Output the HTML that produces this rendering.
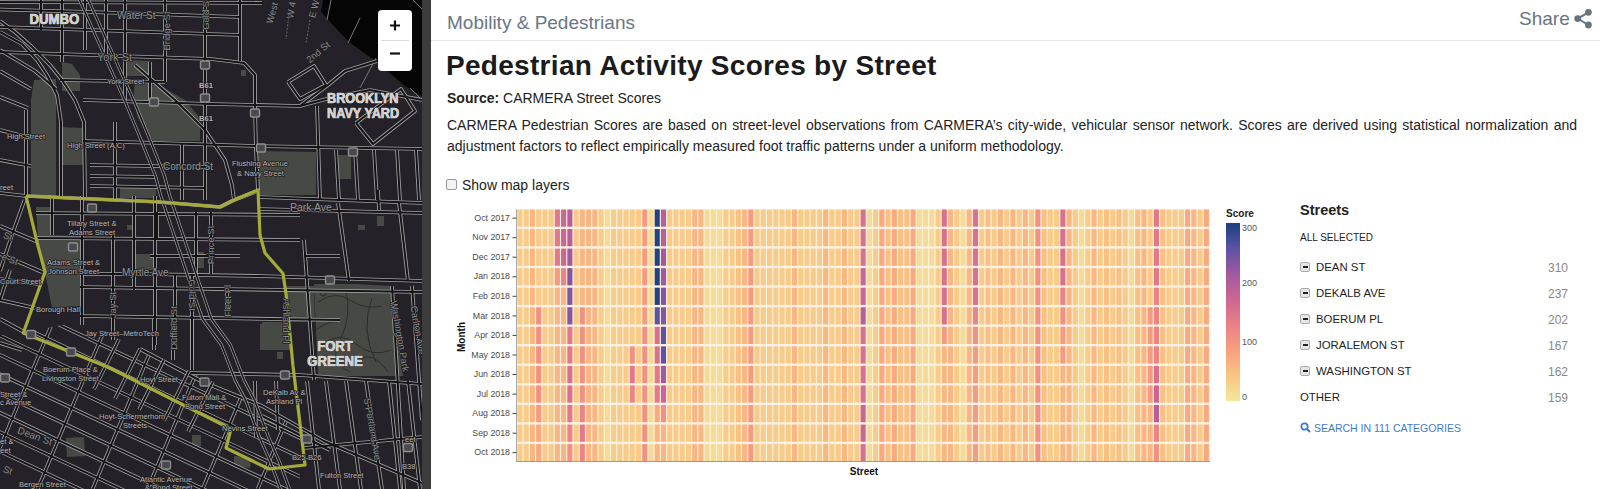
<!DOCTYPE html>
<html><head><meta charset="utf-8">
<style>
*{margin:0;padding:0;box-sizing:border-box}
html,body{width:1600px;height:489px;overflow:hidden;background:#fff;font-family:"Liberation Sans",sans-serif;position:relative}
.abs{position:absolute;white-space:nowrap}
#map{position:absolute;left:0;top:0;width:422px;height:489px;overflow:hidden}
#bar{position:absolute;left:422px;top:0;width:9px;height:489px;background:#3c3c3c}
#zoom{position:absolute;left:378px;top:10px;width:34px;height:61px;background:#fff;border-radius:4px}
#zoom .d{position:absolute;left:3px;right:3px;top:30px;height:1px;background:#ddd}
.hdr{left:447px;top:12px;font-size:19px;color:#677785}
.hline{position:absolute;left:431px;width:1169px;top:40px;height:1px;background:#e6e6e6}
.share{left:1519px;top:8px;font-size:19px;color:#66747f}
.title{left:446px;top:50px;letter-spacing:0.3px;font-size:28px;font-weight:bold;color:#1b1b1b}
.src{left:447px;top:90px;font-size:14px;color:#222}
.para{position:absolute;left:447px;top:115px;width:1130px;font-size:14px;line-height:21px;color:#222;text-align:justify}
.chk{position:absolute;left:446px;top:179px;width:11px;height:11px;border:1px solid #999;border-radius:2px;background:#f3f3f3}
.sml{left:462px;top:177px;font-size:14px;color:#222}
.cb{position:absolute;left:1300px;width:10px;height:10px;border-radius:2px;background:#e6e6e6;border:1px solid #aaa}
.cb::after{content:"";position:absolute;left:2px;top:3.5px;width:4.5px;height:1.6px;background:#222}
.st{position:absolute;left:1316px;font-size:11.4px;color:#222;white-space:nowrap}
.num{position:absolute;left:1520px;width:48px;text-align:right;font-size:12px;color:#888}
</style></head><body>
<div id="map"><svg width="422" height="489" viewBox="0 0 422 489"><rect x="0" y="0" width="422" height="489" fill="#242228"/>
<polygon points="323.0,0.0 422.0,0.0 422.0,96.0 405.0,86.0 378.0,63.0 349.0,42.0 331.0,23.0 321.0,12.0" fill="#050505"/>
<g stroke="#77777a" stroke-width="1" fill="none"><polyline points="331,0 327,20"/><polyline points="360,18 348,43"/><polyline points="376,58 360,88"/><polyline points="413,0 422,9"/><polyline points="410,88 422,100"/></g>
<polygon points="34.0,80.0 56.0,79.0 56.0,196.0 31.0,196.0 31.0,100.0" fill="#474a44"/>
<polygon points="62.0,62.0 72.0,64.0 80.0,75.0 80.0,91.0 62.0,91.0" fill="#474a44"/>
<polygon points="59.0,127.0 84.0,128.0 84.0,165.0 59.0,165.0" fill="#474a44"/>
<polygon points="125.0,60.0 150.0,61.0 150.0,76.0 125.0,76.0" fill="#474a44"/>
<polygon points="135.0,82.0 160.0,86.0 185.0,100.0 200.0,118.0 200.0,141.0 153.0,141.0 138.0,118.0 133.0,100.0" fill="#474a44"/>
<polygon points="257.0,151.0 316.0,152.0 316.0,195.0 258.0,195.0" fill="#474a44"/>
<polygon points="338.0,155.0 351.0,155.0 351.0,179.0 338.0,179.0" fill="#474a44"/>
<polygon points="241.0,70.0 246.0,70.0 246.0,76.0 241.0,76.0" fill="#474a44"/>
<polygon points="120.0,186.0 156.0,186.0 156.0,198.0 120.0,198.0" fill="#474a44"/>
<polygon points="36.0,207.0 50.0,207.0 50.0,235.0 80.0,236.0 80.0,306.0 52.0,308.0 45.0,272.0 38.0,240.0" fill="#474a44"/>
<polygon points="127.0,225.0 136.0,225.0 136.0,230.0 127.0,230.0" fill="#474a44"/>
<polygon points="136.0,254.0 155.0,254.0 155.0,270.0 136.0,270.0" fill="#474a44"/>
<polygon points="197.0,252.0 204.0,252.0 204.0,268.0 197.0,268.0" fill="#474a44"/>
<polygon points="314.0,284.0 355.0,284.0 391.0,286.0 397.0,330.0 403.0,376.0 318.0,376.0 316.0,330.0" fill="#474a44"/>
<polygon points="286.0,286.0 314.0,286.0 315.0,322.0 287.0,322.0" fill="#474a44"/>
<polygon points="262.0,322.0 290.0,322.0 290.0,350.0 262.0,350.0" fill="#474a44"/>
<polygon points="260.0,324.0 286.0,324.0 286.0,350.0 260.0,350.0" fill="#474a44"/>
<polygon points="377.0,216.0 384.0,216.0 384.0,226.0 377.0,226.0" fill="#474a44"/>
<polygon points="358.0,225.0 365.0,225.0 365.0,230.0 358.0,230.0" fill="#474a44"/>
<polygon points="66.0,438.0 84.0,437.0 85.0,456.0 67.0,457.0" fill="#474a44"/>
<polygon points="192.0,435.0 201.0,435.0 201.0,446.0 192.0,446.0" fill="#474a44"/>
<polygon points="234.0,456.0 251.0,458.0 250.0,468.0 234.0,466.0" fill="#474a44"/>
<polygon points="277.0,352.0 283.0,352.0 283.0,359.0 277.0,359.0" fill="#474a44"/>
<g fill="none" stroke="#2c2d2a" stroke-width="1"><path d="M318,302 Q335,290 350,300 T382,306"/><path d="M322,345 Q340,330 356,344 T391,350"/><path d="M346,289 Q352,318 340,340 T350,372"/><path d="M372,298 Q360,330 376,362"/><circle cx="323" cy="293" r="3"/><path d="M316,330 Q330,320 338,322"/><path d="M360,360 Q372,350 388,372"/></g><g stroke="#6a6a6c" stroke-width="1" stroke-dasharray="2,1.5"><line x1="289" y1="14" x2="286" y2="39"/><line x1="310" y1="20" x2="306" y2="43"/></g>
<defs><clipPath id="dt"><polygon points="0,335 23.3,333 76,322 203,377 262,406 300,428 300,489 0,489"/></clipPath></defs>
<g clip-path="url(#dt)"><g fill="none" stroke="#a4a4a6" stroke-width="3.5" stroke-linejoin="round"><polyline points="-10.0,273.0 430.0,479.8"/><polyline points="-10.0,292.3 430.0,499.1"/><polyline points="-10.0,311.6 430.0,518.4"/><polyline points="-10.0,330.9 430.0,537.7"/><polyline points="-10.0,350.2 430.0,557.0"/><polyline points="-10.0,369.5 430.0,576.3"/><polyline points="-10.0,388.8 430.0,595.6"/><polyline points="-10.0,408.1 430.0,614.9"/><polyline points="-10.0,427.4 430.0,634.2"/><polyline points="-10.0,446.7 430.0,653.5"/><polyline points="-72.4,489.0 7.0,300.0"/><polyline points="-17.4,489.0 62.0,300.0"/><polyline points="37.6,489.0 117.0,300.0"/><polyline points="92.6,489.0 172.0,300.0"/><polyline points="147.6,489.0 227.0,300.0"/><polyline points="202.6,489.0 282.0,300.0"/><polyline points="257.6,489.0 337.0,300.0"/><polyline points="312.6,489.0 392.0,300.0"/><polyline points="367.6,489.0 447.0,300.0"/></g><g fill="none" stroke="#141316" stroke-width="1.9" stroke-linejoin="round"><polyline points="-10.0,273.0 430.0,479.8"/><polyline points="-10.0,292.3 430.0,499.1"/><polyline points="-10.0,311.6 430.0,518.4"/><polyline points="-10.0,330.9 430.0,537.7"/><polyline points="-10.0,350.2 430.0,557.0"/><polyline points="-10.0,369.5 430.0,576.3"/><polyline points="-10.0,388.8 430.0,595.6"/><polyline points="-10.0,408.1 430.0,614.9"/><polyline points="-10.0,427.4 430.0,634.2"/><polyline points="-10.0,446.7 430.0,653.5"/><polyline points="-72.4,489.0 7.0,300.0"/><polyline points="-17.4,489.0 62.0,300.0"/><polyline points="37.6,489.0 117.0,300.0"/><polyline points="92.6,489.0 172.0,300.0"/><polyline points="147.6,489.0 227.0,300.0"/><polyline points="202.6,489.0 282.0,300.0"/><polyline points="257.6,489.0 337.0,300.0"/><polyline points="312.6,489.0 392.0,300.0"/><polyline points="367.6,489.0 447.0,300.0"/></g></g>
<g fill="none" stroke="#a4a4a6" stroke-width="3.7" stroke-linejoin="round"><polyline points="0.0,2.0 262.0,3.0"/><polyline points="0.0,9.5 90.0,12.0 240.0,17.0"/><polyline points="0.0,27.0 90.0,30.0 240.0,35.0"/><polyline points="0.0,52.0 90.0,55.0 211.0,59.0 244.0,63.0 255.0,75.0 255.0,106.0 256.0,150.0 258.0,190.0"/><polyline points="60.0,80.0 165.0,82.0"/><polyline points="83.0,100.0 211.0,104.0 300.0,106.0 330.0,98.0 370.0,90.0"/><polyline points="41.0,0.0 41.0,30.0"/><polyline points="62.0,0.0 62.0,62.0"/><polyline points="85.0,0.0 85.0,50.0"/><polyline points="106.0,0.0 106.0,55.0"/><polyline points="125.0,0.0 125.0,55.0"/><polyline points="165.0,0.0 165.0,82.0"/><polyline points="205.0,0.0 205.0,200.0"/><polyline points="240.0,0.0 240.0,61.0"/><polyline points="125.0,60.0 125.0,100.0"/><polyline points="150.0,62.0 150.0,100.0"/><polyline points="0.0,21.0 15.0,32.0 32.0,47.0 50.0,65.0 62.0,80.0 75.0,100.0 84.0,122.0 85.0,197.0"/><polyline points="0.0,32.0 22.0,44.0 37.0,60.0 47.0,75.0 57.0,95.0 61.0,122.0 61.0,197.0"/><polyline points="0.0,50.0 35.0,71.0 56.0,89.0"/><polyline points="0.0,71.0 31.0,89.0"/><polyline points="0.0,97.0 28.0,108.0"/><polyline points="0.0,130.0 31.0,138.0"/><polyline points="0.0,160.0 31.0,166.0"/><polyline points="26.0,110.0 26.0,197.0"/><polyline points="135.0,65.0 175.0,100.0 205.0,130.0 225.0,160.0 232.0,185.0 234.0,200.0"/><polyline points="83.0,141.0 160.0,143.0 255.0,146.0 422.0,149.0"/><polyline points="90.0,165.0 205.0,167.0"/><polyline points="90.0,176.0 157.0,177.0"/><polyline points="90.0,186.0 205.0,188.0"/><polyline points="115.0,122.0 115.0,200.0"/><polyline points="182.0,144.0 182.0,200.0"/><polyline points="317.0,106.0 320.0,200.0"/><polyline points="336.0,150.0 339.0,200.0"/><polyline points="355.0,150.0 358.0,200.0"/><polyline points="374.0,150.0 377.0,200.0"/><polyline points="397.0,150.0 400.0,200.0"/><polyline points="416.0,150.0 419.0,200.0"/><polyline points="258.0,197.0 422.0,203.0"/><polyline points="258.0,209.0 422.0,213.0"/><polyline points="288.0,82.0 314.0,66.0 326.0,85.0 300.0,99.0 288.0,82.0"/><polyline points="356.0,123.0 401.0,89.0 415.0,111.0 373.0,144.0 356.0,123.0"/><polyline points="300.0,106.0 328.0,85.0 345.0,71.0 377.0,61.0"/><polyline points="370.0,90.0 422.0,100.0"/><polyline points="0.0,193.0 26.0,196.0 160.0,202.0 220.0,207.0 234.0,200.0 255.0,192.0"/><polyline points="36.0,213.0 300.0,215.0"/><polyline points="36.0,238.0 300.0,240.0"/><polyline points="80.0,274.0 140.0,274.0 260.0,276.0 422.0,281.0"/><polyline points="80.0,287.0 422.0,292.0"/><polyline points="80.0,316.0 340.0,320.0"/><polyline points="150.0,256.0 240.0,256.0"/><polyline points="304.0,256.0 340.0,256.0"/><polyline points="52.0,196.0 52.0,235.0"/><polyline points="82.0,196.0 82.0,325.0"/><polyline points="113.0,235.0 113.0,340.0"/><polyline points="134.0,196.0 134.0,290.0"/><polyline points="155.0,196.0 155.0,345.0"/><polyline points="157.0,212.0 157.0,239.0"/><polyline points="196.0,212.0 196.0,274.0"/><polyline points="211.0,212.0 211.0,274.0"/><polyline points="175.0,274.0 175.0,350.0"/><polyline points="192.0,274.0 192.0,360.0"/><polyline points="227.0,291.0 227.0,317.0"/><polyline points="304.0,240.0 314.0,380.0"/><polyline points="338.0,203.0 349.0,281.0"/><polyline points="378.0,190.0 379.0,210.0"/><polyline points="399.0,203.0 408.0,281.0"/><polyline points="392.0,286.0 404.0,489.0"/><polyline points="412.0,286.0 422.0,420.0"/><polyline points="24.5,200.0 12.0,235.0 0.0,271.0"/><polyline points="10.0,270.0 0.0,300.0"/><polyline points="0.0,226.0 38.0,242.0"/><polyline points="0.0,254.0 42.0,272.0"/><polyline points="0.0,279.0 38.0,284.0"/><polyline points="0.0,300.0 35.0,308.0"/><polyline points="0.0,319.0 26.0,333.0"/><polyline points="0.0,343.0 22.0,350.0"/><polyline points="190.0,373.0 300.0,375.0 422.0,384.0"/><polyline points="140.0,349.0 203.0,382.0 262.0,406.0 324.0,441.0 422.0,483.0"/><polyline points="262.0,416.0 304.0,437.0 330.0,450.0"/><polyline points="304.0,448.0 422.0,437.0"/><polyline points="255.0,381.0 256.0,437.0"/><polyline points="276.0,381.0 278.0,430.0"/><polyline points="307.0,381.0 319.0,489.0"/><polyline points="326.0,381.0 340.0,489.0"/><polyline points="346.0,381.0 361.0,489.0"/><polyline points="366.0,381.0 382.0,489.0"/><polyline points="389.0,381.0 400.0,489.0"/><polyline points="408.0,381.0 420.0,489.0"/><polyline points="154.0,319.0 154.0,350.0"/><polyline points="173.0,319.0 173.0,360.0"/><polyline points="192.0,319.0 192.0,370.0"/></g><g fill="none" stroke="#141316" stroke-width="2.0" stroke-linejoin="round"><polyline points="0.0,2.0 262.0,3.0"/><polyline points="0.0,9.5 90.0,12.0 240.0,17.0"/><polyline points="0.0,27.0 90.0,30.0 240.0,35.0"/><polyline points="0.0,52.0 90.0,55.0 211.0,59.0 244.0,63.0 255.0,75.0 255.0,106.0 256.0,150.0 258.0,190.0"/><polyline points="60.0,80.0 165.0,82.0"/><polyline points="83.0,100.0 211.0,104.0 300.0,106.0 330.0,98.0 370.0,90.0"/><polyline points="41.0,0.0 41.0,30.0"/><polyline points="62.0,0.0 62.0,62.0"/><polyline points="85.0,0.0 85.0,50.0"/><polyline points="106.0,0.0 106.0,55.0"/><polyline points="125.0,0.0 125.0,55.0"/><polyline points="165.0,0.0 165.0,82.0"/><polyline points="205.0,0.0 205.0,200.0"/><polyline points="240.0,0.0 240.0,61.0"/><polyline points="125.0,60.0 125.0,100.0"/><polyline points="150.0,62.0 150.0,100.0"/><polyline points="0.0,21.0 15.0,32.0 32.0,47.0 50.0,65.0 62.0,80.0 75.0,100.0 84.0,122.0 85.0,197.0"/><polyline points="0.0,32.0 22.0,44.0 37.0,60.0 47.0,75.0 57.0,95.0 61.0,122.0 61.0,197.0"/><polyline points="0.0,50.0 35.0,71.0 56.0,89.0"/><polyline points="0.0,71.0 31.0,89.0"/><polyline points="0.0,97.0 28.0,108.0"/><polyline points="0.0,130.0 31.0,138.0"/><polyline points="0.0,160.0 31.0,166.0"/><polyline points="26.0,110.0 26.0,197.0"/><polyline points="135.0,65.0 175.0,100.0 205.0,130.0 225.0,160.0 232.0,185.0 234.0,200.0"/><polyline points="83.0,141.0 160.0,143.0 255.0,146.0 422.0,149.0"/><polyline points="90.0,165.0 205.0,167.0"/><polyline points="90.0,176.0 157.0,177.0"/><polyline points="90.0,186.0 205.0,188.0"/><polyline points="115.0,122.0 115.0,200.0"/><polyline points="182.0,144.0 182.0,200.0"/><polyline points="317.0,106.0 320.0,200.0"/><polyline points="336.0,150.0 339.0,200.0"/><polyline points="355.0,150.0 358.0,200.0"/><polyline points="374.0,150.0 377.0,200.0"/><polyline points="397.0,150.0 400.0,200.0"/><polyline points="416.0,150.0 419.0,200.0"/><polyline points="258.0,197.0 422.0,203.0"/><polyline points="258.0,209.0 422.0,213.0"/><polyline points="288.0,82.0 314.0,66.0 326.0,85.0 300.0,99.0 288.0,82.0"/><polyline points="356.0,123.0 401.0,89.0 415.0,111.0 373.0,144.0 356.0,123.0"/><polyline points="300.0,106.0 328.0,85.0 345.0,71.0 377.0,61.0"/><polyline points="370.0,90.0 422.0,100.0"/><polyline points="0.0,193.0 26.0,196.0 160.0,202.0 220.0,207.0 234.0,200.0 255.0,192.0"/><polyline points="36.0,213.0 300.0,215.0"/><polyline points="36.0,238.0 300.0,240.0"/><polyline points="80.0,274.0 140.0,274.0 260.0,276.0 422.0,281.0"/><polyline points="80.0,287.0 422.0,292.0"/><polyline points="80.0,316.0 340.0,320.0"/><polyline points="150.0,256.0 240.0,256.0"/><polyline points="304.0,256.0 340.0,256.0"/><polyline points="52.0,196.0 52.0,235.0"/><polyline points="82.0,196.0 82.0,325.0"/><polyline points="113.0,235.0 113.0,340.0"/><polyline points="134.0,196.0 134.0,290.0"/><polyline points="155.0,196.0 155.0,345.0"/><polyline points="157.0,212.0 157.0,239.0"/><polyline points="196.0,212.0 196.0,274.0"/><polyline points="211.0,212.0 211.0,274.0"/><polyline points="175.0,274.0 175.0,350.0"/><polyline points="192.0,274.0 192.0,360.0"/><polyline points="227.0,291.0 227.0,317.0"/><polyline points="304.0,240.0 314.0,380.0"/><polyline points="338.0,203.0 349.0,281.0"/><polyline points="378.0,190.0 379.0,210.0"/><polyline points="399.0,203.0 408.0,281.0"/><polyline points="392.0,286.0 404.0,489.0"/><polyline points="412.0,286.0 422.0,420.0"/><polyline points="24.5,200.0 12.0,235.0 0.0,271.0"/><polyline points="10.0,270.0 0.0,300.0"/><polyline points="0.0,226.0 38.0,242.0"/><polyline points="0.0,254.0 42.0,272.0"/><polyline points="0.0,279.0 38.0,284.0"/><polyline points="0.0,300.0 35.0,308.0"/><polyline points="0.0,319.0 26.0,333.0"/><polyline points="0.0,343.0 22.0,350.0"/><polyline points="190.0,373.0 300.0,375.0 422.0,384.0"/><polyline points="140.0,349.0 203.0,382.0 262.0,406.0 324.0,441.0 422.0,483.0"/><polyline points="262.0,416.0 304.0,437.0 330.0,450.0"/><polyline points="304.0,448.0 422.0,437.0"/><polyline points="255.0,381.0 256.0,437.0"/><polyline points="276.0,381.0 278.0,430.0"/><polyline points="307.0,381.0 319.0,489.0"/><polyline points="326.0,381.0 340.0,489.0"/><polyline points="346.0,381.0 361.0,489.0"/><polyline points="366.0,381.0 382.0,489.0"/><polyline points="389.0,381.0 400.0,489.0"/><polyline points="408.0,381.0 420.0,489.0"/><polyline points="154.0,319.0 154.0,350.0"/><polyline points="173.0,319.0 173.0,360.0"/><polyline points="192.0,319.0 192.0,370.0"/></g>
<g fill="none" stroke="#a4a4a6" stroke-width="3.5" stroke-linejoin="round"><polyline points="94.0,389.3 119.0,339.3"/><polyline points="115.0,398.8 140.0,348.8"/><polyline points="139.0,409.6 164.0,359.6"/><polyline points="164.0,420.8 189.0,370.8"/><polyline points="188.0,431.6 213.0,381.6"/></g><g fill="none" stroke="#141316" stroke-width="1.9" stroke-linejoin="round"><polyline points="94.0,389.3 119.0,339.3"/><polyline points="115.0,398.8 140.0,348.8"/><polyline points="139.0,409.6 164.0,359.6"/><polyline points="164.0,420.8 189.0,370.8"/><polyline points="188.0,431.6 213.0,381.6"/></g>
<g fill="none" stroke="#a4a4a6" stroke-width="3.0" stroke-linejoin="round"><polyline points="79.5,0.0 124.5,100.0 141.5,141.0 155.5,176.0 160.5,195.0 192.5,290.0 202.5,319.0 221.5,345.0 235.5,381.0 245.5,400.0 259.5,437.0 270.5,462.0 280.5,489.0"/><polyline points="88.5,0.0 133.5,100.0 150.5,141.0 164.5,176.0 169.5,195.0 201.5,290.0 211.5,319.0 230.5,345.0 244.5,381.0 254.5,400.0 268.5,437.0 279.5,462.0 289.5,489.0"/></g><g fill="none" stroke="#141316" stroke-width="1.6" stroke-linejoin="round"><polyline points="79.5,0.0 124.5,100.0 141.5,141.0 155.5,176.0 160.5,195.0 192.5,290.0 202.5,319.0 221.5,345.0 235.5,381.0 245.5,400.0 259.5,437.0 270.5,462.0 280.5,489.0"/><polyline points="88.5,0.0 133.5,100.0 150.5,141.0 164.5,176.0 169.5,195.0 201.5,290.0 211.5,319.0 230.5,345.0 244.5,381.0 254.5,400.0 268.5,437.0 279.5,462.0 289.5,489.0"/></g>
<polyline points="26.0,196.0 160.0,202.0 220.0,207.0 234.0,200.0 258.0,190.0 260.0,235.0 265.0,253.0 283.0,273.5 286.0,294.0 293.0,366.0 297.0,399.0 305.0,465.0 269.0,469.0 226.0,448.0 231.0,429.0 110.0,368.0 23.3,333.0 45.0,272.0 37.5,244.0 26.0,196.0" fill="none" stroke="#a4ab3a" stroke-width="3.2" stroke-linejoin="round"/>
<g fill="#4a4a4d" stroke="#8f8f91" stroke-width="1.4"><rect x="200.5" y="61" width="9" height="8" rx="1.5"/><rect x="200.5" y="94" width="9" height="8" rx="1.5"/><rect x="149.5" y="98" width="9" height="8" rx="1.5"/><rect x="250.5" y="109" width="9" height="8" rx="1.5"/><rect x="256.5" y="144" width="9" height="8" rx="1.5"/><rect x="348.5" y="148" width="9" height="8" rx="1.5"/><rect x="87.5" y="204" width="9" height="8" rx="1.5"/><rect x="68.5" y="243" width="9" height="8" rx="1.5"/><rect x="26.5" y="330.5" width="9" height="8" rx="1.5"/><rect x="66.5" y="348" width="9" height="8" rx="1.5"/><rect x="0.5" y="374" width="9" height="8" rx="1.5"/><rect x="200.0" y="378" width="9" height="8" rx="1.5"/><rect x="161.5" y="461" width="9" height="8" rx="1.5"/><rect x="280.5" y="371" width="9" height="8" rx="1.5"/><rect x="302.5" y="435" width="9" height="8" rx="1.5"/><rect x="403.5" y="443.5" width="9" height="8" rx="1.5"/><rect x="325.5" y="276" width="9" height="8" rx="1.5"/></g>
<g font-family="Liberation Sans" paint-order="stroke" stroke="#1f1e22" stroke-width="1.6" stroke-linejoin="round"><text transform="translate(29.5,24.4) scale(0.88,1)" font-size="15" font-weight="bold" fill="#d2d2d2">DUMBO</text><text transform="translate(29.5,24.4) scale(0.88,1)" font-size="15" font-weight="bold" fill="#d2d2d2" stroke="#d2d2d2" stroke-width="0.7">DUMBO</text><text transform="translate(327,103.2) scale(0.87,1)" font-size="14.6" font-weight="bold" fill="#d2d2d2">BROOKLYN</text><text transform="translate(327,103.2) scale(0.87,1)" font-size="14.6" font-weight="bold" fill="#d2d2d2" stroke="#d2d2d2" stroke-width="0.7">BROOKLYN</text><text transform="translate(327,117.8) scale(0.87,1)" font-size="14.6" font-weight="bold" fill="#d2d2d2">NAVY YARD</text><text transform="translate(327,117.8) scale(0.87,1)" font-size="14.6" font-weight="bold" fill="#d2d2d2" stroke="#d2d2d2" stroke-width="0.7">NAVY YARD</text><text x="117" y="18.5" font-size="10" font-weight="normal" fill="#959595">Water St</text><text x="97" y="61" font-size="11" font-weight="normal" fill="#8a8a8a">York St</text><text x="107" y="83.5" font-size="7.6" font-weight="normal" fill="#b5b5b5">York Street</text><text x="7" y="138.5" font-size="7.6" font-weight="normal" fill="#b5b5b5">High Street</text><text x="67" y="147.5" font-size="7.6" font-weight="normal" fill="#b5b5b5">High Street (A,C)</text><text x="163" y="170" font-size="10" font-weight="normal" fill="#959595">Concord St</text><text x="232" y="165.5" font-size="7.6" font-weight="normal" fill="#b5b5b5">Flushing Avenue</text><text x="237" y="175.5" font-size="7.6" font-weight="normal" fill="#b5b5b5">& Navy Street</text><text x="290" y="211" font-size="10.5" font-weight="normal" fill="#959595">Park Ave</text><text x="67" y="225.5" font-size="7.6" font-weight="normal" fill="#b5b5b5">Tillary Street &</text><text x="69" y="235" font-size="7.6" font-weight="normal" fill="#b5b5b5">Adams Street</text><text x="47" y="265" font-size="7.6" font-weight="normal" fill="#b5b5b5">Adams Street &</text><text x="48" y="274" font-size="7.6" font-weight="normal" fill="#b5b5b5">Johnson Street</text><text x="122" y="276" font-size="10" font-weight="normal" fill="#959595">Myrtle Ave</text><text x="0" y="284" font-size="7.6" font-weight="normal" fill="#b5b5b5">Court Street</text><text x="36" y="312" font-size="7.6" font-weight="normal" fill="#b5b5b5">Borough Hall</text><text x="85" y="335.5" font-size="7.6" font-weight="normal" fill="#b5b5b5">Jay Street–MetroTech</text><text x="43" y="371.5" font-size="7.6" font-weight="normal" fill="#b5b5b5">Boerum Place &</text><text x="42" y="380.5" font-size="7.6" font-weight="normal" fill="#b5b5b5">Livingston Street</text><text x="140" y="382" font-size="7.6" font-weight="normal" fill="#b5b5b5">Hoyt Street</text><text x="182" y="400" font-size="7.6" font-weight="normal" fill="#b5b5b5">Fulton Mall &</text><text x="185" y="409" font-size="7.6" font-weight="normal" fill="#b5b5b5">Bond Street</text><text x="99" y="419" font-size="7.6" font-weight="normal" fill="#b5b5b5">Hoyt-Schermerhorn</text><text x="123" y="428" font-size="7.6" font-weight="normal" fill="#b5b5b5">Streets</text><text x="222" y="431" font-size="7.6" font-weight="normal" fill="#b5b5b5">Nevins Street</text><text x="263" y="395" font-size="7.6" font-weight="normal" fill="#b5b5b5">DeKalb Av &</text><text x="266" y="404" font-size="7.6" font-weight="normal" fill="#b5b5b5">Ashland Pl</text><text x="292" y="460" font-size="7.6" font-weight="normal" fill="#b5b5b5">B25-B26</text><text x="320" y="477.5" font-size="7.6" font-weight="normal" fill="#b5b5b5">Fulton Street</text><text x="402" y="469" font-size="7.6" font-weight="normal" fill="#b5b5b5">B38</text><text x="140" y="481.5" font-size="7.6" font-weight="normal" fill="#b5b5b5">Atlantic Avenue</text><text x="145" y="490" font-size="7.6" font-weight="normal" fill="#b5b5b5">& Bond Street</text><text x="19" y="486.5" font-size="7.6" font-weight="normal" fill="#b5b5b5">Bergen Street</text><text x="0" y="396.5" font-size="7.6" font-weight="normal" fill="#b5b5b5">Street &</text><text x="0" y="405" font-size="7.6" font-weight="normal" fill="#b5b5b5">c Avenue</text><text x="0" y="444" font-size="7.6" font-weight="normal" fill="#b5b5b5">et &</text><text x="0" y="453" font-size="7.6" font-weight="normal" fill="#b5b5b5">eet</text><text x="0" y="190" font-size="7.6" font-weight="normal" fill="#b5b5b5">reet</text><text x="405" y="442" font-size="7.6" font-weight="normal" fill="#b5b5b5">eet</text><text x="199" y="87.5" font-size="7.6" font-weight="bold" fill="#b5b5b5">B61</text><text x="199" y="121" font-size="7.6" font-weight="bold" fill="#b5b5b5">B61</text><text transform="translate(335,351.2) scale(0.9,1)" text-anchor="middle" font-size="14.6" font-weight="bold" fill="#d2d2d2" stroke="#2a2a2a" stroke-width="1.6">FORT</text><text transform="translate(335,351.2) scale(0.9,1)" text-anchor="middle" font-size="14.6" font-weight="bold" fill="#d2d2d2" stroke="#d2d2d2" stroke-width="0.7">FORT</text><text transform="translate(335,365.8) scale(0.9,1)" text-anchor="middle" font-size="14.6" font-weight="bold" fill="#d2d2d2" stroke="#2a2a2a" stroke-width="1.6">GREENE</text><text transform="translate(335,365.8) scale(0.9,1)" text-anchor="middle" font-size="14.6" font-weight="bold" fill="#d2d2d2" stroke="#d2d2d2" stroke-width="0.7">GREENE</text><text transform="translate(167,31) rotate(-90)" text-anchor="middle" dy="3.4" font-size="9.5" fill="#8c8c8c">Bridge St</text><text transform="translate(206,14) rotate(-90)" text-anchor="middle" dy="3.4" font-size="9.5" fill="#8c8c8c">Gold St</text><text transform="translate(272,13) rotate(-75)" text-anchor="middle" dy="3.4" font-size="9.5" fill="#8c8c8c">West</text><text transform="translate(291,10) rotate(-80)" text-anchor="middle" dy="3.4" font-size="9.5" fill="#8c8c8c">W 4</text><text transform="translate(314,9) rotate(-75)" text-anchor="middle" dy="3.4" font-size="9.5" fill="#8c8c8c">E W</text><text transform="translate(318,52) rotate(-40)" text-anchor="middle" dy="3.4" font-size="9.5" fill="#8c8c8c">2nd St</text><text transform="translate(113,305) rotate(-90)" text-anchor="middle" dy="3.4" font-size="9.5" fill="#8c8c8c">Jay St</text><text transform="translate(174,328) rotate(-90)" text-anchor="middle" dy="3.4" font-size="9.5" fill="#8c8c8c">Duffield St</text><text transform="translate(192,295) rotate(90)" text-anchor="middle" dy="3.4" font-size="9.5" fill="#8c8c8c">Gold St</text><text transform="translate(211,245) rotate(-90)" text-anchor="middle" dy="3.4" font-size="9.5" fill="#8c8c8c">Prince St</text><text transform="translate(228,301) rotate(-90)" text-anchor="middle" dy="3.4" font-size="9.5" fill="#8c8c8c">Fleet Pl</text><text transform="translate(286,321) rotate(90)" text-anchor="middle" dy="3.4" font-size="9.5" fill="#8c8c8c">Ashland Pl</text><text transform="translate(400,336) rotate(80)" text-anchor="middle" dy="3.4" font-size="9.5" fill="#8c8c8c">Washington Park</text><text transform="translate(418,330) rotate(80)" text-anchor="middle" dy="3.4" font-size="9.5" fill="#8c8c8c">Carlton Ave</text><text transform="translate(372.6,429) rotate(80)" text-anchor="middle" dy="3.4" font-size="9.5" fill="#8c8c8c">S Portland Ave</text><text transform="translate(35,436) rotate(20)" text-anchor="middle" dy="3.4" font-size="10" fill="#8c8c8c">Dean St</text><text transform="translate(8,236) rotate(20)" text-anchor="middle" dy="3.4" font-size="9.5" fill="#8c8c8c">St</text><text transform="translate(10,259) rotate(20)" text-anchor="middle" dy="3.4" font-size="9.5" fill="#8c8c8c">e St</text><text transform="translate(8,470) rotate(20)" text-anchor="middle" dy="3.4" font-size="9.5" fill="#8c8c8c">St</text></g></svg>
<div id="zoom"><div class="d"></div>
<svg width="34" height="61" style="position:absolute;left:0;top:0"><path d="M17 10.5v10M12 15.5h10" stroke="#111" stroke-width="2.2"/><path d="M12 43.5h10" stroke="#111" stroke-width="2.2"/></svg>
</div></div>
<div id="bar"></div>
<div class="abs hdr">Mobility &amp; Pedestrians</div>
<div class="hline"></div>
<div class="abs share">Share</div><svg width="20" height="22" viewBox="1572 8 20 22" style="position:absolute;left:1572px;top:8px"><path d="M1588.4 12.3L1577.7 18.6L1588.4 25" stroke="#66747f" stroke-width="2" fill="none"/><circle cx="1588.4" cy="12.3" r="3.4" fill="#66747f"/><circle cx="1577.7" cy="18.6" r="3.4" fill="#66747f"/><circle cx="1588.4" cy="25" r="3.4" fill="#66747f"/></svg>
<div class="abs title">Pedestrian Activity Scores by Street</div>
<div class="abs src"><b>Source:</b> CARMERA Street Scores</div>
<div class="para">CARMERA Pedestrian Scores are based on street-level observations from CARMERA’s city-wide, vehicular sensor network. Scores are derived using statistical normalization and adjustment factors to reflect empirically measured foot traffic patterns under a uniform methodology.</div>
<div class="chk"></div>
<div class="abs sml">Show map layers</div>
<svg style="position:absolute;left:0;top:0" width="1600" height="489" viewBox="0 0 1600 489">
<defs><linearGradient id="lg" x1="0" y1="1" x2="0" y2="0">
<stop offset="0" stop-color="#f3e79b"/><stop offset="0.1428" stop-color="#fac484"/><stop offset="0.2857" stop-color="#f8a07e"/><stop offset="0.4286" stop-color="#eb7f86"/><stop offset="0.5714" stop-color="#ce6693"/><stop offset="0.7143" stop-color="#a059a0"/><stop offset="0.8571" stop-color="#5c53a5"/><stop offset="1" stop-color="#1d3f7f"/>
</linearGradient></defs>
<rect x="517" y="209.5" width="693.5" height="251.7" fill="#fcf1e2"/><g>
<rect x="517.40" y="209.50" width="5.1" height="17.2" fill="#f9cb89"/>
<rect x="517.40" y="229.05" width="5.1" height="17.2" fill="#f9cb89"/>
<rect x="517.40" y="248.60" width="5.1" height="17.2" fill="#f9cb89"/>
<rect x="517.40" y="268.15" width="5.1" height="17.2" fill="#f9cb89"/>
<rect x="517.40" y="287.70" width="5.1" height="17.2" fill="#f9cb89"/>
<rect x="517.40" y="307.25" width="5.1" height="17.2" fill="#f9cb89"/>
<rect x="517.40" y="326.80" width="5.1" height="17.2" fill="#f9cb89"/>
<rect x="517.40" y="346.35" width="5.1" height="17.2" fill="#f9cb89"/>
<rect x="517.40" y="365.90" width="5.1" height="17.2" fill="#f9cb89"/>
<rect x="517.40" y="385.45" width="5.1" height="17.2" fill="#f9cb89"/>
<rect x="517.40" y="405.00" width="5.1" height="17.2" fill="#f9cb89"/>
<rect x="517.40" y="424.55" width="5.1" height="17.2" fill="#f9cb89"/>
<rect x="517.40" y="444.10" width="5.1" height="17.2" fill="#f9cb89"/>
<rect x="523.64" y="209.50" width="5.1" height="17.2" fill="#f9cb89"/>
<rect x="523.64" y="229.05" width="5.1" height="17.2" fill="#f9cb89"/>
<rect x="523.64" y="248.60" width="5.1" height="17.2" fill="#f9cb89"/>
<rect x="523.64" y="268.15" width="5.1" height="17.2" fill="#f9cb89"/>
<rect x="523.64" y="287.70" width="5.1" height="17.2" fill="#f9cb89"/>
<rect x="523.64" y="307.25" width="5.1" height="17.2" fill="#f9cb89"/>
<rect x="523.64" y="326.80" width="5.1" height="17.2" fill="#f9cb89"/>
<rect x="523.64" y="346.35" width="5.1" height="17.2" fill="#f9cb89"/>
<rect x="523.64" y="365.90" width="5.1" height="17.2" fill="#f9cb89"/>
<rect x="523.64" y="385.45" width="5.1" height="17.2" fill="#f9cb89"/>
<rect x="523.64" y="405.00" width="5.1" height="17.2" fill="#f9cb89"/>
<rect x="523.64" y="424.55" width="5.1" height="17.2" fill="#f9cb89"/>
<rect x="523.64" y="444.10" width="5.1" height="17.2" fill="#f9cb89"/>
<rect x="529.88" y="209.50" width="5.1" height="17.2" fill="#f9b682"/>
<rect x="529.88" y="229.05" width="5.1" height="17.2" fill="#f9b682"/>
<rect x="529.88" y="248.60" width="5.1" height="17.2" fill="#f9b682"/>
<rect x="529.88" y="268.15" width="5.1" height="17.2" fill="#f9b682"/>
<rect x="529.88" y="287.70" width="5.1" height="17.2" fill="#f9b682"/>
<rect x="529.88" y="307.25" width="5.1" height="17.2" fill="#f9b682"/>
<rect x="529.88" y="326.80" width="5.1" height="17.2" fill="#f9b682"/>
<rect x="529.88" y="346.35" width="5.1" height="17.2" fill="#f9b682"/>
<rect x="529.88" y="365.90" width="5.1" height="17.2" fill="#f9b682"/>
<rect x="529.88" y="385.45" width="5.1" height="17.2" fill="#f9b682"/>
<rect x="529.88" y="405.00" width="5.1" height="17.2" fill="#f9b682"/>
<rect x="529.88" y="424.55" width="5.1" height="17.2" fill="#f9b682"/>
<rect x="529.88" y="444.10" width="5.1" height="17.2" fill="#f9b682"/>
<rect x="536.12" y="209.50" width="5.1" height="17.2" fill="#f9cb89"/>
<rect x="536.12" y="229.05" width="5.1" height="17.2" fill="#f9cb89"/>
<rect x="536.12" y="248.60" width="5.1" height="17.2" fill="#f9cb89"/>
<rect x="536.12" y="268.15" width="5.1" height="17.2" fill="#f9cb89"/>
<rect x="536.12" y="287.70" width="5.1" height="17.2" fill="#f9cb89"/>
<rect x="536.12" y="307.25" width="5.1" height="17.2" fill="#f29082"/>
<rect x="536.12" y="326.80" width="5.1" height="17.2" fill="#f29082"/>
<rect x="536.12" y="346.35" width="5.1" height="17.2" fill="#f29082"/>
<rect x="536.12" y="365.90" width="5.1" height="17.2" fill="#f29082"/>
<rect x="536.12" y="385.45" width="5.1" height="17.2" fill="#f29082"/>
<rect x="536.12" y="405.00" width="5.1" height="17.2" fill="#f69b7f"/>
<rect x="536.12" y="424.55" width="5.1" height="17.2" fill="#f8a97f"/>
<rect x="536.12" y="444.10" width="5.1" height="17.2" fill="#f8a97f"/>
<rect x="542.36" y="209.50" width="5.1" height="17.2" fill="#f9cb89"/>
<rect x="542.36" y="229.05" width="5.1" height="17.2" fill="#f9cb89"/>
<rect x="542.36" y="248.60" width="5.1" height="17.2" fill="#f9cb89"/>
<rect x="542.36" y="268.15" width="5.1" height="17.2" fill="#f9cb89"/>
<rect x="542.36" y="287.70" width="5.1" height="17.2" fill="#f9cb89"/>
<rect x="542.36" y="307.25" width="5.1" height="17.2" fill="#f9cb89"/>
<rect x="542.36" y="326.80" width="5.1" height="17.2" fill="#f9cb89"/>
<rect x="542.36" y="346.35" width="5.1" height="17.2" fill="#f9cb89"/>
<rect x="542.36" y="365.90" width="5.1" height="17.2" fill="#f9cb89"/>
<rect x="542.36" y="385.45" width="5.1" height="17.2" fill="#f9cb89"/>
<rect x="542.36" y="405.00" width="5.1" height="17.2" fill="#f9cb89"/>
<rect x="542.36" y="424.55" width="5.1" height="17.2" fill="#f9cb89"/>
<rect x="542.36" y="444.10" width="5.1" height="17.2" fill="#f9cb89"/>
<rect x="548.60" y="209.50" width="5.1" height="17.2" fill="#f9cb89"/>
<rect x="548.60" y="229.05" width="5.1" height="17.2" fill="#f9cb89"/>
<rect x="548.60" y="248.60" width="5.1" height="17.2" fill="#f9cb89"/>
<rect x="548.60" y="268.15" width="5.1" height="17.2" fill="#f9cb89"/>
<rect x="548.60" y="287.70" width="5.1" height="17.2" fill="#f9cb89"/>
<rect x="548.60" y="307.25" width="5.1" height="17.2" fill="#f9cb89"/>
<rect x="548.60" y="326.80" width="5.1" height="17.2" fill="#f9cb89"/>
<rect x="548.60" y="346.35" width="5.1" height="17.2" fill="#f9cb89"/>
<rect x="548.60" y="365.90" width="5.1" height="17.2" fill="#f9cb89"/>
<rect x="548.60" y="385.45" width="5.1" height="17.2" fill="#f9cb89"/>
<rect x="548.60" y="405.00" width="5.1" height="17.2" fill="#f9cb89"/>
<rect x="548.60" y="424.55" width="5.1" height="17.2" fill="#f9cb89"/>
<rect x="548.60" y="444.10" width="5.1" height="17.2" fill="#f9cb89"/>
<rect x="554.84" y="209.50" width="5.1" height="17.2" fill="#e3788a"/>
<rect x="554.84" y="229.05" width="5.1" height="17.2" fill="#e3788a"/>
<rect x="554.84" y="248.60" width="5.1" height="17.2" fill="#e3788a"/>
<rect x="554.84" y="268.15" width="5.1" height="17.2" fill="#f69b7f"/>
<rect x="554.84" y="287.70" width="5.1" height="17.2" fill="#f9b682"/>
<rect x="554.84" y="307.25" width="5.1" height="17.2" fill="#f9b682"/>
<rect x="554.84" y="326.80" width="5.1" height="17.2" fill="#f9b682"/>
<rect x="554.84" y="346.35" width="5.1" height="17.2" fill="#f9b682"/>
<rect x="554.84" y="365.90" width="5.1" height="17.2" fill="#f9b682"/>
<rect x="554.84" y="385.45" width="5.1" height="17.2" fill="#f9b682"/>
<rect x="554.84" y="405.00" width="5.1" height="17.2" fill="#f9b682"/>
<rect x="554.84" y="424.55" width="5.1" height="17.2" fill="#f9b682"/>
<rect x="554.84" y="444.10" width="5.1" height="17.2" fill="#f9b682"/>
<rect x="561.08" y="209.50" width="5.1" height="17.2" fill="#cb6594"/>
<rect x="561.08" y="229.05" width="5.1" height="17.2" fill="#cb6594"/>
<rect x="561.08" y="248.60" width="5.1" height="17.2" fill="#cb6594"/>
<rect x="561.08" y="268.15" width="5.1" height="17.2" fill="#ec8385"/>
<rect x="561.08" y="287.70" width="5.1" height="17.2" fill="#f9b682"/>
<rect x="561.08" y="307.25" width="5.1" height="17.2" fill="#f9b682"/>
<rect x="561.08" y="326.80" width="5.1" height="17.2" fill="#f9b682"/>
<rect x="561.08" y="346.35" width="5.1" height="17.2" fill="#f9b682"/>
<rect x="561.08" y="365.90" width="5.1" height="17.2" fill="#f9b682"/>
<rect x="561.08" y="385.45" width="5.1" height="17.2" fill="#f9b682"/>
<rect x="561.08" y="405.00" width="5.1" height="17.2" fill="#f9b682"/>
<rect x="561.08" y="424.55" width="5.1" height="17.2" fill="#f9b682"/>
<rect x="561.08" y="444.10" width="5.1" height="17.2" fill="#f9b682"/>
<rect x="567.32" y="209.50" width="5.1" height="17.2" fill="#b65f9a"/>
<rect x="567.32" y="229.05" width="5.1" height="17.2" fill="#b65f9a"/>
<rect x="567.32" y="248.60" width="5.1" height="17.2" fill="#a159a0"/>
<rect x="567.32" y="268.15" width="5.1" height="17.2" fill="#8356a2"/>
<rect x="567.32" y="287.70" width="5.1" height="17.2" fill="#8356a2"/>
<rect x="567.32" y="307.25" width="5.1" height="17.2" fill="#8356a2"/>
<rect x="567.32" y="326.80" width="5.1" height="17.2" fill="#e3788a"/>
<rect x="567.32" y="346.35" width="5.1" height="17.2" fill="#e3788a"/>
<rect x="567.32" y="365.90" width="5.1" height="17.2" fill="#d9708e"/>
<rect x="567.32" y="385.45" width="5.1" height="17.2" fill="#d9708e"/>
<rect x="567.32" y="405.00" width="5.1" height="17.2" fill="#e3788a"/>
<rect x="567.32" y="424.55" width="5.1" height="17.2" fill="#ec8385"/>
<rect x="567.32" y="444.10" width="5.1" height="17.2" fill="#f29082"/>
<rect x="573.56" y="209.50" width="5.1" height="17.2" fill="#f9cb89"/>
<rect x="573.56" y="229.05" width="5.1" height="17.2" fill="#f9cb89"/>
<rect x="573.56" y="248.60" width="5.1" height="17.2" fill="#f9cb89"/>
<rect x="573.56" y="268.15" width="5.1" height="17.2" fill="#f9cb89"/>
<rect x="573.56" y="287.70" width="5.1" height="17.2" fill="#f9cb89"/>
<rect x="573.56" y="307.25" width="5.1" height="17.2" fill="#f9cb89"/>
<rect x="573.56" y="326.80" width="5.1" height="17.2" fill="#f9cb89"/>
<rect x="573.56" y="346.35" width="5.1" height="17.2" fill="#f9cb89"/>
<rect x="573.56" y="365.90" width="5.1" height="17.2" fill="#f9cb89"/>
<rect x="573.56" y="385.45" width="5.1" height="17.2" fill="#f9cb89"/>
<rect x="573.56" y="405.00" width="5.1" height="17.2" fill="#f9cb89"/>
<rect x="573.56" y="424.55" width="5.1" height="17.2" fill="#f9cb89"/>
<rect x="573.56" y="444.10" width="5.1" height="17.2" fill="#f9cb89"/>
<rect x="579.80" y="209.50" width="5.1" height="17.2" fill="#f9b682"/>
<rect x="579.80" y="229.05" width="5.1" height="17.2" fill="#f9b682"/>
<rect x="579.80" y="248.60" width="5.1" height="17.2" fill="#f9b682"/>
<rect x="579.80" y="268.15" width="5.1" height="17.2" fill="#f9b682"/>
<rect x="579.80" y="287.70" width="5.1" height="17.2" fill="#f9b682"/>
<rect x="579.80" y="307.25" width="5.1" height="17.2" fill="#f29082"/>
<rect x="579.80" y="326.80" width="5.1" height="17.2" fill="#f29082"/>
<rect x="579.80" y="346.35" width="5.1" height="17.2" fill="#f29082"/>
<rect x="579.80" y="365.90" width="5.1" height="17.2" fill="#f29082"/>
<rect x="579.80" y="385.45" width="5.1" height="17.2" fill="#f29082"/>
<rect x="579.80" y="405.00" width="5.1" height="17.2" fill="#ec8385"/>
<rect x="579.80" y="424.55" width="5.1" height="17.2" fill="#e3788a"/>
<rect x="579.80" y="444.10" width="5.1" height="17.2" fill="#ec8385"/>
<rect x="586.04" y="209.50" width="5.1" height="17.2" fill="#f9b682"/>
<rect x="586.04" y="229.05" width="5.1" height="17.2" fill="#f9b682"/>
<rect x="586.04" y="248.60" width="5.1" height="17.2" fill="#f9b682"/>
<rect x="586.04" y="268.15" width="5.1" height="17.2" fill="#f9b682"/>
<rect x="586.04" y="287.70" width="5.1" height="17.2" fill="#f9b682"/>
<rect x="586.04" y="307.25" width="5.1" height="17.2" fill="#f9b682"/>
<rect x="586.04" y="326.80" width="5.1" height="17.2" fill="#f9b682"/>
<rect x="586.04" y="346.35" width="5.1" height="17.2" fill="#f9b682"/>
<rect x="586.04" y="365.90" width="5.1" height="17.2" fill="#f9b682"/>
<rect x="586.04" y="385.45" width="5.1" height="17.2" fill="#f9b682"/>
<rect x="586.04" y="405.00" width="5.1" height="17.2" fill="#f9b682"/>
<rect x="586.04" y="424.55" width="5.1" height="17.2" fill="#f9b682"/>
<rect x="586.04" y="444.10" width="5.1" height="17.2" fill="#f9b682"/>
<rect x="592.28" y="209.50" width="5.1" height="17.2" fill="#f9b682"/>
<rect x="592.28" y="229.05" width="5.1" height="17.2" fill="#f9b682"/>
<rect x="592.28" y="248.60" width="5.1" height="17.2" fill="#f9b682"/>
<rect x="592.28" y="268.15" width="5.1" height="17.2" fill="#f9b682"/>
<rect x="592.28" y="287.70" width="5.1" height="17.2" fill="#f9b682"/>
<rect x="592.28" y="307.25" width="5.1" height="17.2" fill="#f9b682"/>
<rect x="592.28" y="326.80" width="5.1" height="17.2" fill="#f9b682"/>
<rect x="592.28" y="346.35" width="5.1" height="17.2" fill="#f9b682"/>
<rect x="592.28" y="365.90" width="5.1" height="17.2" fill="#f9b682"/>
<rect x="592.28" y="385.45" width="5.1" height="17.2" fill="#f9b682"/>
<rect x="592.28" y="405.00" width="5.1" height="17.2" fill="#f9b682"/>
<rect x="592.28" y="424.55" width="5.1" height="17.2" fill="#f9b682"/>
<rect x="592.28" y="444.10" width="5.1" height="17.2" fill="#f9b682"/>
<rect x="598.52" y="209.50" width="5.1" height="17.2" fill="#f9cb89"/>
<rect x="598.52" y="229.05" width="5.1" height="17.2" fill="#f9cb89"/>
<rect x="598.52" y="248.60" width="5.1" height="17.2" fill="#f9cb89"/>
<rect x="598.52" y="268.15" width="5.1" height="17.2" fill="#f9cb89"/>
<rect x="598.52" y="287.70" width="5.1" height="17.2" fill="#f9cb89"/>
<rect x="598.52" y="307.25" width="5.1" height="17.2" fill="#f9cb89"/>
<rect x="598.52" y="326.80" width="5.1" height="17.2" fill="#f9cb89"/>
<rect x="598.52" y="346.35" width="5.1" height="17.2" fill="#f9cb89"/>
<rect x="598.52" y="365.90" width="5.1" height="17.2" fill="#f9cb89"/>
<rect x="598.52" y="385.45" width="5.1" height="17.2" fill="#f9cb89"/>
<rect x="598.52" y="405.00" width="5.1" height="17.2" fill="#f9cb89"/>
<rect x="598.52" y="424.55" width="5.1" height="17.2" fill="#f9cb89"/>
<rect x="598.52" y="444.10" width="5.1" height="17.2" fill="#f9cb89"/>
<rect x="604.76" y="209.50" width="5.1" height="17.2" fill="#f5db93"/>
<rect x="604.76" y="229.05" width="5.1" height="17.2" fill="#f5db93"/>
<rect x="604.76" y="248.60" width="5.1" height="17.2" fill="#f5db93"/>
<rect x="604.76" y="268.15" width="5.1" height="17.2" fill="#f5db93"/>
<rect x="604.76" y="287.70" width="5.1" height="17.2" fill="#f5db93"/>
<rect x="604.76" y="307.25" width="5.1" height="17.2" fill="#f5db93"/>
<rect x="604.76" y="326.80" width="5.1" height="17.2" fill="#f5db93"/>
<rect x="604.76" y="346.35" width="5.1" height="17.2" fill="#f5db93"/>
<rect x="604.76" y="365.90" width="5.1" height="17.2" fill="#f5db93"/>
<rect x="604.76" y="385.45" width="5.1" height="17.2" fill="#f5db93"/>
<rect x="604.76" y="405.00" width="5.1" height="17.2" fill="#f5db93"/>
<rect x="604.76" y="424.55" width="5.1" height="17.2" fill="#f5db93"/>
<rect x="604.76" y="444.10" width="5.1" height="17.2" fill="#f5db93"/>
<rect x="611.00" y="209.50" width="5.1" height="17.2" fill="#f9cb89"/>
<rect x="611.00" y="229.05" width="5.1" height="17.2" fill="#f9cb89"/>
<rect x="611.00" y="248.60" width="5.1" height="17.2" fill="#f9cb89"/>
<rect x="611.00" y="268.15" width="5.1" height="17.2" fill="#f9cb89"/>
<rect x="611.00" y="287.70" width="5.1" height="17.2" fill="#f9cb89"/>
<rect x="611.00" y="307.25" width="5.1" height="17.2" fill="#f9cb89"/>
<rect x="611.00" y="326.80" width="5.1" height="17.2" fill="#f9cb89"/>
<rect x="611.00" y="346.35" width="5.1" height="17.2" fill="#f9cb89"/>
<rect x="611.00" y="365.90" width="5.1" height="17.2" fill="#f9cb89"/>
<rect x="611.00" y="385.45" width="5.1" height="17.2" fill="#f9cb89"/>
<rect x="611.00" y="405.00" width="5.1" height="17.2" fill="#f9cb89"/>
<rect x="611.00" y="424.55" width="5.1" height="17.2" fill="#f9cb89"/>
<rect x="611.00" y="444.10" width="5.1" height="17.2" fill="#f9cb89"/>
<rect x="617.24" y="209.50" width="5.1" height="17.2" fill="#f9cb89"/>
<rect x="617.24" y="229.05" width="5.1" height="17.2" fill="#f9cb89"/>
<rect x="617.24" y="248.60" width="5.1" height="17.2" fill="#f9cb89"/>
<rect x="617.24" y="268.15" width="5.1" height="17.2" fill="#f9cb89"/>
<rect x="617.24" y="287.70" width="5.1" height="17.2" fill="#f9cb89"/>
<rect x="617.24" y="307.25" width="5.1" height="17.2" fill="#f9cb89"/>
<rect x="617.24" y="326.80" width="5.1" height="17.2" fill="#f9cb89"/>
<rect x="617.24" y="346.35" width="5.1" height="17.2" fill="#f9cb89"/>
<rect x="617.24" y="365.90" width="5.1" height="17.2" fill="#f9cb89"/>
<rect x="617.24" y="385.45" width="5.1" height="17.2" fill="#f9cb89"/>
<rect x="617.24" y="405.00" width="5.1" height="17.2" fill="#f9cb89"/>
<rect x="617.24" y="424.55" width="5.1" height="17.2" fill="#f9cb89"/>
<rect x="617.24" y="444.10" width="5.1" height="17.2" fill="#f9cb89"/>
<rect x="623.48" y="209.50" width="5.1" height="17.2" fill="#f9cb89"/>
<rect x="623.48" y="229.05" width="5.1" height="17.2" fill="#f9cb89"/>
<rect x="623.48" y="248.60" width="5.1" height="17.2" fill="#f9cb89"/>
<rect x="623.48" y="268.15" width="5.1" height="17.2" fill="#f9cb89"/>
<rect x="623.48" y="287.70" width="5.1" height="17.2" fill="#f9cb89"/>
<rect x="623.48" y="307.25" width="5.1" height="17.2" fill="#f9cb89"/>
<rect x="623.48" y="326.80" width="5.1" height="17.2" fill="#f9cb89"/>
<rect x="623.48" y="346.35" width="5.1" height="17.2" fill="#f9cb89"/>
<rect x="623.48" y="365.90" width="5.1" height="17.2" fill="#f9cb89"/>
<rect x="623.48" y="385.45" width="5.1" height="17.2" fill="#f9cb89"/>
<rect x="623.48" y="405.00" width="5.1" height="17.2" fill="#f9cb89"/>
<rect x="623.48" y="424.55" width="5.1" height="17.2" fill="#f9cb89"/>
<rect x="623.48" y="444.10" width="5.1" height="17.2" fill="#f9cb89"/>
<rect x="629.72" y="209.50" width="5.1" height="17.2" fill="#f9cb89"/>
<rect x="629.72" y="229.05" width="5.1" height="17.2" fill="#f9cb89"/>
<rect x="629.72" y="248.60" width="5.1" height="17.2" fill="#f9cb89"/>
<rect x="629.72" y="268.15" width="5.1" height="17.2" fill="#f9cb89"/>
<rect x="629.72" y="287.70" width="5.1" height="17.2" fill="#f9cb89"/>
<rect x="629.72" y="307.25" width="5.1" height="17.2" fill="#f9cb89"/>
<rect x="629.72" y="326.80" width="5.1" height="17.2" fill="#f9cb89"/>
<rect x="629.72" y="346.35" width="5.1" height="17.2" fill="#f29082"/>
<rect x="629.72" y="365.90" width="5.1" height="17.2" fill="#e3788a"/>
<rect x="629.72" y="385.45" width="5.1" height="17.2" fill="#ec8385"/>
<rect x="629.72" y="405.00" width="5.1" height="17.2" fill="#f9cb89"/>
<rect x="629.72" y="424.55" width="5.1" height="17.2" fill="#f9cb89"/>
<rect x="629.72" y="444.10" width="5.1" height="17.2" fill="#f9cb89"/>
<rect x="635.96" y="209.50" width="5.1" height="17.2" fill="#f9cb89"/>
<rect x="635.96" y="229.05" width="5.1" height="17.2" fill="#f9cb89"/>
<rect x="635.96" y="248.60" width="5.1" height="17.2" fill="#f9cb89"/>
<rect x="635.96" y="268.15" width="5.1" height="17.2" fill="#f9cb89"/>
<rect x="635.96" y="287.70" width="5.1" height="17.2" fill="#f9cb89"/>
<rect x="635.96" y="307.25" width="5.1" height="17.2" fill="#f9cb89"/>
<rect x="635.96" y="326.80" width="5.1" height="17.2" fill="#f9cb89"/>
<rect x="635.96" y="346.35" width="5.1" height="17.2" fill="#f9cb89"/>
<rect x="635.96" y="365.90" width="5.1" height="17.2" fill="#f9cb89"/>
<rect x="635.96" y="385.45" width="5.1" height="17.2" fill="#f9cb89"/>
<rect x="635.96" y="405.00" width="5.1" height="17.2" fill="#f9cb89"/>
<rect x="635.96" y="424.55" width="5.1" height="17.2" fill="#f9cb89"/>
<rect x="635.96" y="444.10" width="5.1" height="17.2" fill="#f9cb89"/>
<rect x="642.20" y="209.50" width="5.1" height="17.2" fill="#f69b7f"/>
<rect x="642.20" y="229.05" width="5.1" height="17.2" fill="#f69b7f"/>
<rect x="642.20" y="248.60" width="5.1" height="17.2" fill="#f69b7f"/>
<rect x="642.20" y="268.15" width="5.1" height="17.2" fill="#f69b7f"/>
<rect x="642.20" y="287.70" width="5.1" height="17.2" fill="#f69b7f"/>
<rect x="642.20" y="307.25" width="5.1" height="17.2" fill="#f69b7f"/>
<rect x="642.20" y="326.80" width="5.1" height="17.2" fill="#f29082"/>
<rect x="642.20" y="346.35" width="5.1" height="17.2" fill="#f29082"/>
<rect x="642.20" y="365.90" width="5.1" height="17.2" fill="#f29082"/>
<rect x="642.20" y="385.45" width="5.1" height="17.2" fill="#f29082"/>
<rect x="642.20" y="405.00" width="5.1" height="17.2" fill="#f29082"/>
<rect x="642.20" y="424.55" width="5.1" height="17.2" fill="#f29082"/>
<rect x="642.20" y="444.10" width="5.1" height="17.2" fill="#f29082"/>
<rect x="648.44" y="209.50" width="5.1" height="17.2" fill="#f5db93"/>
<rect x="648.44" y="229.05" width="5.1" height="17.2" fill="#f5db93"/>
<rect x="648.44" y="248.60" width="5.1" height="17.2" fill="#f5db93"/>
<rect x="648.44" y="268.15" width="5.1" height="17.2" fill="#f5db93"/>
<rect x="648.44" y="287.70" width="5.1" height="17.2" fill="#f5db93"/>
<rect x="648.44" y="307.25" width="5.1" height="17.2" fill="#f5db93"/>
<rect x="648.44" y="326.80" width="5.1" height="17.2" fill="#f5db93"/>
<rect x="648.44" y="346.35" width="5.1" height="17.2" fill="#f5db93"/>
<rect x="648.44" y="365.90" width="5.1" height="17.2" fill="#f5db93"/>
<rect x="648.44" y="385.45" width="5.1" height="17.2" fill="#f5db93"/>
<rect x="648.44" y="405.00" width="5.1" height="17.2" fill="#f5db93"/>
<rect x="648.44" y="424.55" width="5.1" height="17.2" fill="#f5db93"/>
<rect x="648.44" y="444.10" width="5.1" height="17.2" fill="#f5db93"/>
<rect x="654.68" y="209.50" width="5.1" height="17.2" fill="#244183"/>
<rect x="654.68" y="229.05" width="5.1" height="17.2" fill="#244183"/>
<rect x="654.68" y="248.60" width="5.1" height="17.2" fill="#244183"/>
<rect x="654.68" y="268.15" width="5.1" height="17.2" fill="#244183"/>
<rect x="654.68" y="287.70" width="5.1" height="17.2" fill="#244183"/>
<rect x="654.68" y="307.25" width="5.1" height="17.2" fill="#5d53a5"/>
<rect x="654.68" y="326.80" width="5.1" height="17.2" fill="#d9708e"/>
<rect x="654.68" y="346.35" width="5.1" height="17.2" fill="#d9708e"/>
<rect x="654.68" y="365.90" width="5.1" height="17.2" fill="#e3788a"/>
<rect x="654.68" y="385.45" width="5.1" height="17.2" fill="#e3788a"/>
<rect x="654.68" y="405.00" width="5.1" height="17.2" fill="#f8a97f"/>
<rect x="654.68" y="424.55" width="5.1" height="17.2" fill="#f9b682"/>
<rect x="654.68" y="444.10" width="5.1" height="17.2" fill="#f9b682"/>
<rect x="660.92" y="209.50" width="5.1" height="17.2" fill="#b65f9a"/>
<rect x="660.92" y="229.05" width="5.1" height="17.2" fill="#b65f9a"/>
<rect x="660.92" y="248.60" width="5.1" height="17.2" fill="#a159a0"/>
<rect x="660.92" y="268.15" width="5.1" height="17.2" fill="#a159a0"/>
<rect x="660.92" y="287.70" width="5.1" height="17.2" fill="#8356a2"/>
<rect x="660.92" y="307.25" width="5.1" height="17.2" fill="#8356a2"/>
<rect x="660.92" y="326.80" width="5.1" height="17.2" fill="#5d53a5"/>
<rect x="660.92" y="346.35" width="5.1" height="17.2" fill="#5d53a5"/>
<rect x="660.92" y="365.90" width="5.1" height="17.2" fill="#a159a0"/>
<rect x="660.92" y="385.45" width="5.1" height="17.2" fill="#cb6594"/>
<rect x="660.92" y="405.00" width="5.1" height="17.2" fill="#f29082"/>
<rect x="660.92" y="424.55" width="5.1" height="17.2" fill="#f9b682"/>
<rect x="660.92" y="444.10" width="5.1" height="17.2" fill="#f9b682"/>
<rect x="667.16" y="209.50" width="5.1" height="17.2" fill="#f9cb89"/>
<rect x="667.16" y="229.05" width="5.1" height="17.2" fill="#f9cb89"/>
<rect x="667.16" y="248.60" width="5.1" height="17.2" fill="#f9cb89"/>
<rect x="667.16" y="268.15" width="5.1" height="17.2" fill="#f9cb89"/>
<rect x="667.16" y="287.70" width="5.1" height="17.2" fill="#f9cb89"/>
<rect x="667.16" y="307.25" width="5.1" height="17.2" fill="#f9cb89"/>
<rect x="667.16" y="326.80" width="5.1" height="17.2" fill="#f9cb89"/>
<rect x="667.16" y="346.35" width="5.1" height="17.2" fill="#f9cb89"/>
<rect x="667.16" y="365.90" width="5.1" height="17.2" fill="#f9cb89"/>
<rect x="667.16" y="385.45" width="5.1" height="17.2" fill="#f9cb89"/>
<rect x="667.16" y="405.00" width="5.1" height="17.2" fill="#f9cb89"/>
<rect x="667.16" y="424.55" width="5.1" height="17.2" fill="#f9cb89"/>
<rect x="667.16" y="444.10" width="5.1" height="17.2" fill="#f9cb89"/>
<rect x="673.40" y="209.50" width="5.1" height="17.2" fill="#f9cb89"/>
<rect x="673.40" y="229.05" width="5.1" height="17.2" fill="#f9cb89"/>
<rect x="673.40" y="248.60" width="5.1" height="17.2" fill="#f9cb89"/>
<rect x="673.40" y="268.15" width="5.1" height="17.2" fill="#f9cb89"/>
<rect x="673.40" y="287.70" width="5.1" height="17.2" fill="#f9cb89"/>
<rect x="673.40" y="307.25" width="5.1" height="17.2" fill="#f9cb89"/>
<rect x="673.40" y="326.80" width="5.1" height="17.2" fill="#f9cb89"/>
<rect x="673.40" y="346.35" width="5.1" height="17.2" fill="#f9cb89"/>
<rect x="673.40" y="365.90" width="5.1" height="17.2" fill="#f9cb89"/>
<rect x="673.40" y="385.45" width="5.1" height="17.2" fill="#f9cb89"/>
<rect x="673.40" y="405.00" width="5.1" height="17.2" fill="#f9cb89"/>
<rect x="673.40" y="424.55" width="5.1" height="17.2" fill="#f9cb89"/>
<rect x="673.40" y="444.10" width="5.1" height="17.2" fill="#f9cb89"/>
<rect x="679.64" y="209.50" width="5.1" height="17.2" fill="#f9cb89"/>
<rect x="679.64" y="229.05" width="5.1" height="17.2" fill="#f9cb89"/>
<rect x="679.64" y="248.60" width="5.1" height="17.2" fill="#f9cb89"/>
<rect x="679.64" y="268.15" width="5.1" height="17.2" fill="#f9cb89"/>
<rect x="679.64" y="287.70" width="5.1" height="17.2" fill="#f9cb89"/>
<rect x="679.64" y="307.25" width="5.1" height="17.2" fill="#f9cb89"/>
<rect x="679.64" y="326.80" width="5.1" height="17.2" fill="#f9cb89"/>
<rect x="679.64" y="346.35" width="5.1" height="17.2" fill="#f9cb89"/>
<rect x="679.64" y="365.90" width="5.1" height="17.2" fill="#f9cb89"/>
<rect x="679.64" y="385.45" width="5.1" height="17.2" fill="#f9cb89"/>
<rect x="679.64" y="405.00" width="5.1" height="17.2" fill="#f9cb89"/>
<rect x="679.64" y="424.55" width="5.1" height="17.2" fill="#f9cb89"/>
<rect x="679.64" y="444.10" width="5.1" height="17.2" fill="#f9cb89"/>
<rect x="685.88" y="209.50" width="5.1" height="17.2" fill="#f9cb89"/>
<rect x="685.88" y="229.05" width="5.1" height="17.2" fill="#f9cb89"/>
<rect x="685.88" y="248.60" width="5.1" height="17.2" fill="#f9cb89"/>
<rect x="685.88" y="268.15" width="5.1" height="17.2" fill="#f9cb89"/>
<rect x="685.88" y="287.70" width="5.1" height="17.2" fill="#f9cb89"/>
<rect x="685.88" y="307.25" width="5.1" height="17.2" fill="#f9cb89"/>
<rect x="685.88" y="326.80" width="5.1" height="17.2" fill="#f9cb89"/>
<rect x="685.88" y="346.35" width="5.1" height="17.2" fill="#f9cb89"/>
<rect x="685.88" y="365.90" width="5.1" height="17.2" fill="#f9cb89"/>
<rect x="685.88" y="385.45" width="5.1" height="17.2" fill="#f9cb89"/>
<rect x="685.88" y="405.00" width="5.1" height="17.2" fill="#f9cb89"/>
<rect x="685.88" y="424.55" width="5.1" height="17.2" fill="#f9cb89"/>
<rect x="685.88" y="444.10" width="5.1" height="17.2" fill="#f9cb89"/>
<rect x="692.12" y="209.50" width="5.1" height="17.2" fill="#f9b682"/>
<rect x="692.12" y="229.05" width="5.1" height="17.2" fill="#f9b682"/>
<rect x="692.12" y="248.60" width="5.1" height="17.2" fill="#f9b682"/>
<rect x="692.12" y="268.15" width="5.1" height="17.2" fill="#f9b682"/>
<rect x="692.12" y="287.70" width="5.1" height="17.2" fill="#f9b682"/>
<rect x="692.12" y="307.25" width="5.1" height="17.2" fill="#f9b682"/>
<rect x="692.12" y="326.80" width="5.1" height="17.2" fill="#f9b682"/>
<rect x="692.12" y="346.35" width="5.1" height="17.2" fill="#f9b682"/>
<rect x="692.12" y="365.90" width="5.1" height="17.2" fill="#f9b682"/>
<rect x="692.12" y="385.45" width="5.1" height="17.2" fill="#f9b682"/>
<rect x="692.12" y="405.00" width="5.1" height="17.2" fill="#f9b682"/>
<rect x="692.12" y="424.55" width="5.1" height="17.2" fill="#f9b682"/>
<rect x="692.12" y="444.10" width="5.1" height="17.2" fill="#f9b682"/>
<rect x="698.36" y="209.50" width="5.1" height="17.2" fill="#f9b682"/>
<rect x="698.36" y="229.05" width="5.1" height="17.2" fill="#f9b682"/>
<rect x="698.36" y="248.60" width="5.1" height="17.2" fill="#f9b682"/>
<rect x="698.36" y="268.15" width="5.1" height="17.2" fill="#f9b682"/>
<rect x="698.36" y="287.70" width="5.1" height="17.2" fill="#f9b682"/>
<rect x="698.36" y="307.25" width="5.1" height="17.2" fill="#f9b682"/>
<rect x="698.36" y="326.80" width="5.1" height="17.2" fill="#f9b682"/>
<rect x="698.36" y="346.35" width="5.1" height="17.2" fill="#f9b682"/>
<rect x="698.36" y="365.90" width="5.1" height="17.2" fill="#f9b682"/>
<rect x="698.36" y="385.45" width="5.1" height="17.2" fill="#f9b682"/>
<rect x="698.36" y="405.00" width="5.1" height="17.2" fill="#f9b682"/>
<rect x="698.36" y="424.55" width="5.1" height="17.2" fill="#f9b682"/>
<rect x="698.36" y="444.10" width="5.1" height="17.2" fill="#f9b682"/>
<rect x="704.60" y="209.50" width="5.1" height="17.2" fill="#f5db93"/>
<rect x="704.60" y="229.05" width="5.1" height="17.2" fill="#f5db93"/>
<rect x="704.60" y="248.60" width="5.1" height="17.2" fill="#f5db93"/>
<rect x="704.60" y="268.15" width="5.1" height="17.2" fill="#f5db93"/>
<rect x="704.60" y="287.70" width="5.1" height="17.2" fill="#f5db93"/>
<rect x="704.60" y="307.25" width="5.1" height="17.2" fill="#f5db93"/>
<rect x="704.60" y="326.80" width="5.1" height="17.2" fill="#f5db93"/>
<rect x="704.60" y="346.35" width="5.1" height="17.2" fill="#f5db93"/>
<rect x="704.60" y="365.90" width="5.1" height="17.2" fill="#f5db93"/>
<rect x="704.60" y="385.45" width="5.1" height="17.2" fill="#f5db93"/>
<rect x="704.60" y="405.00" width="5.1" height="17.2" fill="#f5db93"/>
<rect x="704.60" y="424.55" width="5.1" height="17.2" fill="#f5db93"/>
<rect x="704.60" y="444.10" width="5.1" height="17.2" fill="#f5db93"/>
<rect x="710.84" y="209.50" width="5.1" height="17.2" fill="#f5db93"/>
<rect x="710.84" y="229.05" width="5.1" height="17.2" fill="#f5db93"/>
<rect x="710.84" y="248.60" width="5.1" height="17.2" fill="#f5db93"/>
<rect x="710.84" y="268.15" width="5.1" height="17.2" fill="#f5db93"/>
<rect x="710.84" y="287.70" width="5.1" height="17.2" fill="#f5db93"/>
<rect x="710.84" y="307.25" width="5.1" height="17.2" fill="#f5db93"/>
<rect x="710.84" y="326.80" width="5.1" height="17.2" fill="#f5db93"/>
<rect x="710.84" y="346.35" width="5.1" height="17.2" fill="#f5db93"/>
<rect x="710.84" y="365.90" width="5.1" height="17.2" fill="#f5db93"/>
<rect x="710.84" y="385.45" width="5.1" height="17.2" fill="#f5db93"/>
<rect x="710.84" y="405.00" width="5.1" height="17.2" fill="#f5db93"/>
<rect x="710.84" y="424.55" width="5.1" height="17.2" fill="#f5db93"/>
<rect x="710.84" y="444.10" width="5.1" height="17.2" fill="#f5db93"/>
<rect x="717.08" y="209.50" width="5.1" height="17.2" fill="#f5db93"/>
<rect x="717.08" y="229.05" width="5.1" height="17.2" fill="#f5db93"/>
<rect x="717.08" y="248.60" width="5.1" height="17.2" fill="#f5db93"/>
<rect x="717.08" y="268.15" width="5.1" height="17.2" fill="#f5db93"/>
<rect x="717.08" y="287.70" width="5.1" height="17.2" fill="#f5db93"/>
<rect x="717.08" y="307.25" width="5.1" height="17.2" fill="#f5db93"/>
<rect x="717.08" y="326.80" width="5.1" height="17.2" fill="#f5db93"/>
<rect x="717.08" y="346.35" width="5.1" height="17.2" fill="#f5db93"/>
<rect x="717.08" y="365.90" width="5.1" height="17.2" fill="#f5db93"/>
<rect x="717.08" y="385.45" width="5.1" height="17.2" fill="#f5db93"/>
<rect x="717.08" y="405.00" width="5.1" height="17.2" fill="#f5db93"/>
<rect x="717.08" y="424.55" width="5.1" height="17.2" fill="#f5db93"/>
<rect x="717.08" y="444.10" width="5.1" height="17.2" fill="#f5db93"/>
<rect x="723.32" y="209.50" width="5.1" height="17.2" fill="#f9cb89"/>
<rect x="723.32" y="229.05" width="5.1" height="17.2" fill="#f9cb89"/>
<rect x="723.32" y="248.60" width="5.1" height="17.2" fill="#f9cb89"/>
<rect x="723.32" y="268.15" width="5.1" height="17.2" fill="#f9cb89"/>
<rect x="723.32" y="287.70" width="5.1" height="17.2" fill="#f9cb89"/>
<rect x="723.32" y="307.25" width="5.1" height="17.2" fill="#f9cb89"/>
<rect x="723.32" y="326.80" width="5.1" height="17.2" fill="#f9cb89"/>
<rect x="723.32" y="346.35" width="5.1" height="17.2" fill="#f9cb89"/>
<rect x="723.32" y="365.90" width="5.1" height="17.2" fill="#f9cb89"/>
<rect x="723.32" y="385.45" width="5.1" height="17.2" fill="#f9cb89"/>
<rect x="723.32" y="405.00" width="5.1" height="17.2" fill="#f9cb89"/>
<rect x="723.32" y="424.55" width="5.1" height="17.2" fill="#f9cb89"/>
<rect x="723.32" y="444.10" width="5.1" height="17.2" fill="#f9cb89"/>
<rect x="729.56" y="209.50" width="5.1" height="17.2" fill="#f9cb89"/>
<rect x="729.56" y="229.05" width="5.1" height="17.2" fill="#f9cb89"/>
<rect x="729.56" y="248.60" width="5.1" height="17.2" fill="#f9cb89"/>
<rect x="729.56" y="268.15" width="5.1" height="17.2" fill="#f9cb89"/>
<rect x="729.56" y="287.70" width="5.1" height="17.2" fill="#f9cb89"/>
<rect x="729.56" y="307.25" width="5.1" height="17.2" fill="#f9cb89"/>
<rect x="729.56" y="326.80" width="5.1" height="17.2" fill="#f9cb89"/>
<rect x="729.56" y="346.35" width="5.1" height="17.2" fill="#f9cb89"/>
<rect x="729.56" y="365.90" width="5.1" height="17.2" fill="#f9cb89"/>
<rect x="729.56" y="385.45" width="5.1" height="17.2" fill="#f9cb89"/>
<rect x="729.56" y="405.00" width="5.1" height="17.2" fill="#f9cb89"/>
<rect x="729.56" y="424.55" width="5.1" height="17.2" fill="#f9cb89"/>
<rect x="729.56" y="444.10" width="5.1" height="17.2" fill="#f9cb89"/>
<rect x="735.80" y="209.50" width="5.1" height="17.2" fill="#fabf83"/>
<rect x="735.80" y="229.05" width="5.1" height="17.2" fill="#fabf83"/>
<rect x="735.80" y="248.60" width="5.1" height="17.2" fill="#fabf83"/>
<rect x="735.80" y="268.15" width="5.1" height="17.2" fill="#fabf83"/>
<rect x="735.80" y="287.70" width="5.1" height="17.2" fill="#fabf83"/>
<rect x="735.80" y="307.25" width="5.1" height="17.2" fill="#fabf83"/>
<rect x="735.80" y="326.80" width="5.1" height="17.2" fill="#fabf83"/>
<rect x="735.80" y="346.35" width="5.1" height="17.2" fill="#fabf83"/>
<rect x="735.80" y="365.90" width="5.1" height="17.2" fill="#fabf83"/>
<rect x="735.80" y="385.45" width="5.1" height="17.2" fill="#fabf83"/>
<rect x="735.80" y="405.00" width="5.1" height="17.2" fill="#fabf83"/>
<rect x="735.80" y="424.55" width="5.1" height="17.2" fill="#fabf83"/>
<rect x="735.80" y="444.10" width="5.1" height="17.2" fill="#fabf83"/>
<rect x="742.04" y="209.50" width="5.1" height="17.2" fill="#f9b682"/>
<rect x="742.04" y="229.05" width="5.1" height="17.2" fill="#f9b682"/>
<rect x="742.04" y="248.60" width="5.1" height="17.2" fill="#f9b682"/>
<rect x="742.04" y="268.15" width="5.1" height="17.2" fill="#f9b682"/>
<rect x="742.04" y="287.70" width="5.1" height="17.2" fill="#f9b682"/>
<rect x="742.04" y="307.25" width="5.1" height="17.2" fill="#f9b682"/>
<rect x="742.04" y="326.80" width="5.1" height="17.2" fill="#f9b682"/>
<rect x="742.04" y="346.35" width="5.1" height="17.2" fill="#f9b682"/>
<rect x="742.04" y="365.90" width="5.1" height="17.2" fill="#f9b682"/>
<rect x="742.04" y="385.45" width="5.1" height="17.2" fill="#f9b682"/>
<rect x="742.04" y="405.00" width="5.1" height="17.2" fill="#f9b682"/>
<rect x="742.04" y="424.55" width="5.1" height="17.2" fill="#f9b682"/>
<rect x="742.04" y="444.10" width="5.1" height="17.2" fill="#f9b682"/>
<rect x="748.28" y="209.50" width="5.1" height="17.2" fill="#f69b7f"/>
<rect x="748.28" y="229.05" width="5.1" height="17.2" fill="#f69b7f"/>
<rect x="748.28" y="248.60" width="5.1" height="17.2" fill="#f69b7f"/>
<rect x="748.28" y="268.15" width="5.1" height="17.2" fill="#f69b7f"/>
<rect x="748.28" y="287.70" width="5.1" height="17.2" fill="#f69b7f"/>
<rect x="748.28" y="307.25" width="5.1" height="17.2" fill="#f69b7f"/>
<rect x="748.28" y="326.80" width="5.1" height="17.2" fill="#f69b7f"/>
<rect x="748.28" y="346.35" width="5.1" height="17.2" fill="#f69b7f"/>
<rect x="748.28" y="365.90" width="5.1" height="17.2" fill="#f69b7f"/>
<rect x="748.28" y="385.45" width="5.1" height="17.2" fill="#f69b7f"/>
<rect x="748.28" y="405.00" width="5.1" height="17.2" fill="#f69b7f"/>
<rect x="748.28" y="424.55" width="5.1" height="17.2" fill="#f69b7f"/>
<rect x="748.28" y="444.10" width="5.1" height="17.2" fill="#f69b7f"/>
<rect x="754.52" y="209.50" width="5.1" height="17.2" fill="#f9cb89"/>
<rect x="754.52" y="229.05" width="5.1" height="17.2" fill="#f9cb89"/>
<rect x="754.52" y="248.60" width="5.1" height="17.2" fill="#f9cb89"/>
<rect x="754.52" y="268.15" width="5.1" height="17.2" fill="#f9cb89"/>
<rect x="754.52" y="287.70" width="5.1" height="17.2" fill="#f9cb89"/>
<rect x="754.52" y="307.25" width="5.1" height="17.2" fill="#f9cb89"/>
<rect x="754.52" y="326.80" width="5.1" height="17.2" fill="#f9cb89"/>
<rect x="754.52" y="346.35" width="5.1" height="17.2" fill="#f9cb89"/>
<rect x="754.52" y="365.90" width="5.1" height="17.2" fill="#f9cb89"/>
<rect x="754.52" y="385.45" width="5.1" height="17.2" fill="#f9cb89"/>
<rect x="754.52" y="405.00" width="5.1" height="17.2" fill="#f9cb89"/>
<rect x="754.52" y="424.55" width="5.1" height="17.2" fill="#f9cb89"/>
<rect x="754.52" y="444.10" width="5.1" height="17.2" fill="#f9cb89"/>
<rect x="760.76" y="209.50" width="5.1" height="17.2" fill="#f9cb89"/>
<rect x="760.76" y="229.05" width="5.1" height="17.2" fill="#f9cb89"/>
<rect x="760.76" y="248.60" width="5.1" height="17.2" fill="#f9cb89"/>
<rect x="760.76" y="268.15" width="5.1" height="17.2" fill="#f9cb89"/>
<rect x="760.76" y="287.70" width="5.1" height="17.2" fill="#f9cb89"/>
<rect x="760.76" y="307.25" width="5.1" height="17.2" fill="#f9cb89"/>
<rect x="760.76" y="326.80" width="5.1" height="17.2" fill="#f9cb89"/>
<rect x="760.76" y="346.35" width="5.1" height="17.2" fill="#f9cb89"/>
<rect x="760.76" y="365.90" width="5.1" height="17.2" fill="#f9cb89"/>
<rect x="760.76" y="385.45" width="5.1" height="17.2" fill="#f9cb89"/>
<rect x="760.76" y="405.00" width="5.1" height="17.2" fill="#f9cb89"/>
<rect x="760.76" y="424.55" width="5.1" height="17.2" fill="#f9cb89"/>
<rect x="760.76" y="444.10" width="5.1" height="17.2" fill="#f9cb89"/>
<rect x="767.00" y="209.50" width="5.1" height="17.2" fill="#f9cb89"/>
<rect x="767.00" y="229.05" width="5.1" height="17.2" fill="#f9cb89"/>
<rect x="767.00" y="248.60" width="5.1" height="17.2" fill="#f9cb89"/>
<rect x="767.00" y="268.15" width="5.1" height="17.2" fill="#f9cb89"/>
<rect x="767.00" y="287.70" width="5.1" height="17.2" fill="#f9cb89"/>
<rect x="767.00" y="307.25" width="5.1" height="17.2" fill="#f9cb89"/>
<rect x="767.00" y="326.80" width="5.1" height="17.2" fill="#f9cb89"/>
<rect x="767.00" y="346.35" width="5.1" height="17.2" fill="#f9cb89"/>
<rect x="767.00" y="365.90" width="5.1" height="17.2" fill="#f9cb89"/>
<rect x="767.00" y="385.45" width="5.1" height="17.2" fill="#f9cb89"/>
<rect x="767.00" y="405.00" width="5.1" height="17.2" fill="#f9cb89"/>
<rect x="767.00" y="424.55" width="5.1" height="17.2" fill="#f9cb89"/>
<rect x="767.00" y="444.10" width="5.1" height="17.2" fill="#f9cb89"/>
<rect x="773.24" y="209.50" width="5.1" height="17.2" fill="#f9cb89"/>
<rect x="773.24" y="229.05" width="5.1" height="17.2" fill="#f9cb89"/>
<rect x="773.24" y="248.60" width="5.1" height="17.2" fill="#f9cb89"/>
<rect x="773.24" y="268.15" width="5.1" height="17.2" fill="#f9cb89"/>
<rect x="773.24" y="287.70" width="5.1" height="17.2" fill="#f9cb89"/>
<rect x="773.24" y="307.25" width="5.1" height="17.2" fill="#f9cb89"/>
<rect x="773.24" y="326.80" width="5.1" height="17.2" fill="#f9cb89"/>
<rect x="773.24" y="346.35" width="5.1" height="17.2" fill="#f9cb89"/>
<rect x="773.24" y="365.90" width="5.1" height="17.2" fill="#f9cb89"/>
<rect x="773.24" y="385.45" width="5.1" height="17.2" fill="#f9cb89"/>
<rect x="773.24" y="405.00" width="5.1" height="17.2" fill="#f9cb89"/>
<rect x="773.24" y="424.55" width="5.1" height="17.2" fill="#f9cb89"/>
<rect x="773.24" y="444.10" width="5.1" height="17.2" fill="#f9cb89"/>
<rect x="779.48" y="209.50" width="5.1" height="17.2" fill="#f9cb89"/>
<rect x="779.48" y="229.05" width="5.1" height="17.2" fill="#f9cb89"/>
<rect x="779.48" y="248.60" width="5.1" height="17.2" fill="#f9cb89"/>
<rect x="779.48" y="268.15" width="5.1" height="17.2" fill="#f9cb89"/>
<rect x="779.48" y="287.70" width="5.1" height="17.2" fill="#f9cb89"/>
<rect x="779.48" y="307.25" width="5.1" height="17.2" fill="#f9cb89"/>
<rect x="779.48" y="326.80" width="5.1" height="17.2" fill="#f9cb89"/>
<rect x="779.48" y="346.35" width="5.1" height="17.2" fill="#f9cb89"/>
<rect x="779.48" y="365.90" width="5.1" height="17.2" fill="#f9cb89"/>
<rect x="779.48" y="385.45" width="5.1" height="17.2" fill="#f9cb89"/>
<rect x="779.48" y="405.00" width="5.1" height="17.2" fill="#f9cb89"/>
<rect x="779.48" y="424.55" width="5.1" height="17.2" fill="#f9cb89"/>
<rect x="779.48" y="444.10" width="5.1" height="17.2" fill="#f9cb89"/>
<rect x="785.72" y="209.50" width="5.1" height="17.2" fill="#f9cb89"/>
<rect x="785.72" y="229.05" width="5.1" height="17.2" fill="#f9cb89"/>
<rect x="785.72" y="248.60" width="5.1" height="17.2" fill="#f9cb89"/>
<rect x="785.72" y="268.15" width="5.1" height="17.2" fill="#f9cb89"/>
<rect x="785.72" y="287.70" width="5.1" height="17.2" fill="#f9cb89"/>
<rect x="785.72" y="307.25" width="5.1" height="17.2" fill="#f9cb89"/>
<rect x="785.72" y="326.80" width="5.1" height="17.2" fill="#f9cb89"/>
<rect x="785.72" y="346.35" width="5.1" height="17.2" fill="#f9cb89"/>
<rect x="785.72" y="365.90" width="5.1" height="17.2" fill="#f9cb89"/>
<rect x="785.72" y="385.45" width="5.1" height="17.2" fill="#f9cb89"/>
<rect x="785.72" y="405.00" width="5.1" height="17.2" fill="#f9cb89"/>
<rect x="785.72" y="424.55" width="5.1" height="17.2" fill="#f9cb89"/>
<rect x="785.72" y="444.10" width="5.1" height="17.2" fill="#f9cb89"/>
<rect x="791.96" y="209.50" width="5.1" height="17.2" fill="#f9b682"/>
<rect x="791.96" y="229.05" width="5.1" height="17.2" fill="#f9b682"/>
<rect x="791.96" y="248.60" width="5.1" height="17.2" fill="#f9b682"/>
<rect x="791.96" y="268.15" width="5.1" height="17.2" fill="#f9b682"/>
<rect x="791.96" y="287.70" width="5.1" height="17.2" fill="#f9b682"/>
<rect x="791.96" y="307.25" width="5.1" height="17.2" fill="#f9b682"/>
<rect x="791.96" y="326.80" width="5.1" height="17.2" fill="#f9b682"/>
<rect x="791.96" y="346.35" width="5.1" height="17.2" fill="#f9b682"/>
<rect x="791.96" y="365.90" width="5.1" height="17.2" fill="#f9b682"/>
<rect x="791.96" y="385.45" width="5.1" height="17.2" fill="#f9b682"/>
<rect x="791.96" y="405.00" width="5.1" height="17.2" fill="#f9b682"/>
<rect x="791.96" y="424.55" width="5.1" height="17.2" fill="#f9b682"/>
<rect x="791.96" y="444.10" width="5.1" height="17.2" fill="#f9b682"/>
<rect x="798.20" y="209.50" width="5.1" height="17.2" fill="#f9cb89"/>
<rect x="798.20" y="229.05" width="5.1" height="17.2" fill="#f9cb89"/>
<rect x="798.20" y="248.60" width="5.1" height="17.2" fill="#f9cb89"/>
<rect x="798.20" y="268.15" width="5.1" height="17.2" fill="#f9cb89"/>
<rect x="798.20" y="287.70" width="5.1" height="17.2" fill="#f9cb89"/>
<rect x="798.20" y="307.25" width="5.1" height="17.2" fill="#f9cb89"/>
<rect x="798.20" y="326.80" width="5.1" height="17.2" fill="#f9cb89"/>
<rect x="798.20" y="346.35" width="5.1" height="17.2" fill="#f9cb89"/>
<rect x="798.20" y="365.90" width="5.1" height="17.2" fill="#f9cb89"/>
<rect x="798.20" y="385.45" width="5.1" height="17.2" fill="#f9cb89"/>
<rect x="798.20" y="405.00" width="5.1" height="17.2" fill="#f9cb89"/>
<rect x="798.20" y="424.55" width="5.1" height="17.2" fill="#f9cb89"/>
<rect x="798.20" y="444.10" width="5.1" height="17.2" fill="#f9cb89"/>
<rect x="804.44" y="209.50" width="5.1" height="17.2" fill="#f9cb89"/>
<rect x="804.44" y="229.05" width="5.1" height="17.2" fill="#f9cb89"/>
<rect x="804.44" y="248.60" width="5.1" height="17.2" fill="#f9cb89"/>
<rect x="804.44" y="268.15" width="5.1" height="17.2" fill="#f9cb89"/>
<rect x="804.44" y="287.70" width="5.1" height="17.2" fill="#f9cb89"/>
<rect x="804.44" y="307.25" width="5.1" height="17.2" fill="#f9cb89"/>
<rect x="804.44" y="326.80" width="5.1" height="17.2" fill="#f9cb89"/>
<rect x="804.44" y="346.35" width="5.1" height="17.2" fill="#f9cb89"/>
<rect x="804.44" y="365.90" width="5.1" height="17.2" fill="#f9cb89"/>
<rect x="804.44" y="385.45" width="5.1" height="17.2" fill="#f9cb89"/>
<rect x="804.44" y="405.00" width="5.1" height="17.2" fill="#f9cb89"/>
<rect x="804.44" y="424.55" width="5.1" height="17.2" fill="#f9cb89"/>
<rect x="804.44" y="444.10" width="5.1" height="17.2" fill="#f9cb89"/>
<rect x="810.68" y="209.50" width="5.1" height="17.2" fill="#f9cb89"/>
<rect x="810.68" y="229.05" width="5.1" height="17.2" fill="#f9cb89"/>
<rect x="810.68" y="248.60" width="5.1" height="17.2" fill="#f9cb89"/>
<rect x="810.68" y="268.15" width="5.1" height="17.2" fill="#f9cb89"/>
<rect x="810.68" y="287.70" width="5.1" height="17.2" fill="#f9cb89"/>
<rect x="810.68" y="307.25" width="5.1" height="17.2" fill="#f9cb89"/>
<rect x="810.68" y="326.80" width="5.1" height="17.2" fill="#f9cb89"/>
<rect x="810.68" y="346.35" width="5.1" height="17.2" fill="#f9cb89"/>
<rect x="810.68" y="365.90" width="5.1" height="17.2" fill="#f9cb89"/>
<rect x="810.68" y="385.45" width="5.1" height="17.2" fill="#f9cb89"/>
<rect x="810.68" y="405.00" width="5.1" height="17.2" fill="#f9cb89"/>
<rect x="810.68" y="424.55" width="5.1" height="17.2" fill="#f9cb89"/>
<rect x="810.68" y="444.10" width="5.1" height="17.2" fill="#f9cb89"/>
<rect x="816.92" y="209.50" width="5.1" height="17.2" fill="#f9cb89"/>
<rect x="816.92" y="229.05" width="5.1" height="17.2" fill="#f9cb89"/>
<rect x="816.92" y="248.60" width="5.1" height="17.2" fill="#f9cb89"/>
<rect x="816.92" y="268.15" width="5.1" height="17.2" fill="#f9cb89"/>
<rect x="816.92" y="287.70" width="5.1" height="17.2" fill="#f9cb89"/>
<rect x="816.92" y="307.25" width="5.1" height="17.2" fill="#f9cb89"/>
<rect x="816.92" y="326.80" width="5.1" height="17.2" fill="#f9cb89"/>
<rect x="816.92" y="346.35" width="5.1" height="17.2" fill="#f9cb89"/>
<rect x="816.92" y="365.90" width="5.1" height="17.2" fill="#f9cb89"/>
<rect x="816.92" y="385.45" width="5.1" height="17.2" fill="#f9cb89"/>
<rect x="816.92" y="405.00" width="5.1" height="17.2" fill="#f9cb89"/>
<rect x="816.92" y="424.55" width="5.1" height="17.2" fill="#f9cb89"/>
<rect x="816.92" y="444.10" width="5.1" height="17.2" fill="#f9cb89"/>
<rect x="823.16" y="209.50" width="5.1" height="17.2" fill="#f9b682"/>
<rect x="823.16" y="229.05" width="5.1" height="17.2" fill="#f9b682"/>
<rect x="823.16" y="248.60" width="5.1" height="17.2" fill="#f9b682"/>
<rect x="823.16" y="268.15" width="5.1" height="17.2" fill="#f9b682"/>
<rect x="823.16" y="287.70" width="5.1" height="17.2" fill="#f9b682"/>
<rect x="823.16" y="307.25" width="5.1" height="17.2" fill="#f9b682"/>
<rect x="823.16" y="326.80" width="5.1" height="17.2" fill="#f9b682"/>
<rect x="823.16" y="346.35" width="5.1" height="17.2" fill="#f9b682"/>
<rect x="823.16" y="365.90" width="5.1" height="17.2" fill="#f9b682"/>
<rect x="823.16" y="385.45" width="5.1" height="17.2" fill="#f9b682"/>
<rect x="823.16" y="405.00" width="5.1" height="17.2" fill="#f9b682"/>
<rect x="823.16" y="424.55" width="5.1" height="17.2" fill="#f9b682"/>
<rect x="823.16" y="444.10" width="5.1" height="17.2" fill="#f9b682"/>
<rect x="829.40" y="209.50" width="5.1" height="17.2" fill="#f9cb89"/>
<rect x="829.40" y="229.05" width="5.1" height="17.2" fill="#f9cb89"/>
<rect x="829.40" y="248.60" width="5.1" height="17.2" fill="#f9cb89"/>
<rect x="829.40" y="268.15" width="5.1" height="17.2" fill="#f9cb89"/>
<rect x="829.40" y="287.70" width="5.1" height="17.2" fill="#f9cb89"/>
<rect x="829.40" y="307.25" width="5.1" height="17.2" fill="#f9cb89"/>
<rect x="829.40" y="326.80" width="5.1" height="17.2" fill="#f9cb89"/>
<rect x="829.40" y="346.35" width="5.1" height="17.2" fill="#f9cb89"/>
<rect x="829.40" y="365.90" width="5.1" height="17.2" fill="#f9cb89"/>
<rect x="829.40" y="385.45" width="5.1" height="17.2" fill="#f9cb89"/>
<rect x="829.40" y="405.00" width="5.1" height="17.2" fill="#f9cb89"/>
<rect x="829.40" y="424.55" width="5.1" height="17.2" fill="#f9cb89"/>
<rect x="829.40" y="444.10" width="5.1" height="17.2" fill="#f9cb89"/>
<rect x="835.64" y="209.50" width="5.1" height="17.2" fill="#f9cb89"/>
<rect x="835.64" y="229.05" width="5.1" height="17.2" fill="#f9cb89"/>
<rect x="835.64" y="248.60" width="5.1" height="17.2" fill="#f9cb89"/>
<rect x="835.64" y="268.15" width="5.1" height="17.2" fill="#f9cb89"/>
<rect x="835.64" y="287.70" width="5.1" height="17.2" fill="#f9cb89"/>
<rect x="835.64" y="307.25" width="5.1" height="17.2" fill="#f9cb89"/>
<rect x="835.64" y="326.80" width="5.1" height="17.2" fill="#f9cb89"/>
<rect x="835.64" y="346.35" width="5.1" height="17.2" fill="#f9cb89"/>
<rect x="835.64" y="365.90" width="5.1" height="17.2" fill="#f9cb89"/>
<rect x="835.64" y="385.45" width="5.1" height="17.2" fill="#f9cb89"/>
<rect x="835.64" y="405.00" width="5.1" height="17.2" fill="#f9cb89"/>
<rect x="835.64" y="424.55" width="5.1" height="17.2" fill="#f9cb89"/>
<rect x="835.64" y="444.10" width="5.1" height="17.2" fill="#f9cb89"/>
<rect x="841.88" y="209.50" width="5.1" height="17.2" fill="#f9b682"/>
<rect x="841.88" y="229.05" width="5.1" height="17.2" fill="#f9b682"/>
<rect x="841.88" y="248.60" width="5.1" height="17.2" fill="#f9b682"/>
<rect x="841.88" y="268.15" width="5.1" height="17.2" fill="#f9b682"/>
<rect x="841.88" y="287.70" width="5.1" height="17.2" fill="#f9b682"/>
<rect x="841.88" y="307.25" width="5.1" height="17.2" fill="#f9b682"/>
<rect x="841.88" y="326.80" width="5.1" height="17.2" fill="#f9b682"/>
<rect x="841.88" y="346.35" width="5.1" height="17.2" fill="#f9b682"/>
<rect x="841.88" y="365.90" width="5.1" height="17.2" fill="#f9b682"/>
<rect x="841.88" y="385.45" width="5.1" height="17.2" fill="#f9b682"/>
<rect x="841.88" y="405.00" width="5.1" height="17.2" fill="#f9b682"/>
<rect x="841.88" y="424.55" width="5.1" height="17.2" fill="#f9b682"/>
<rect x="841.88" y="444.10" width="5.1" height="17.2" fill="#f9b682"/>
<rect x="848.12" y="209.50" width="5.1" height="17.2" fill="#f9cb89"/>
<rect x="848.12" y="229.05" width="5.1" height="17.2" fill="#f9cb89"/>
<rect x="848.12" y="248.60" width="5.1" height="17.2" fill="#f9cb89"/>
<rect x="848.12" y="268.15" width="5.1" height="17.2" fill="#f9cb89"/>
<rect x="848.12" y="287.70" width="5.1" height="17.2" fill="#f9cb89"/>
<rect x="848.12" y="307.25" width="5.1" height="17.2" fill="#f9cb89"/>
<rect x="848.12" y="326.80" width="5.1" height="17.2" fill="#f9cb89"/>
<rect x="848.12" y="346.35" width="5.1" height="17.2" fill="#f9cb89"/>
<rect x="848.12" y="365.90" width="5.1" height="17.2" fill="#f9cb89"/>
<rect x="848.12" y="385.45" width="5.1" height="17.2" fill="#f9cb89"/>
<rect x="848.12" y="405.00" width="5.1" height="17.2" fill="#f9cb89"/>
<rect x="848.12" y="424.55" width="5.1" height="17.2" fill="#f9cb89"/>
<rect x="848.12" y="444.10" width="5.1" height="17.2" fill="#f9cb89"/>
<rect x="854.36" y="209.50" width="5.1" height="17.2" fill="#f9cb89"/>
<rect x="854.36" y="229.05" width="5.1" height="17.2" fill="#f9cb89"/>
<rect x="854.36" y="248.60" width="5.1" height="17.2" fill="#f9cb89"/>
<rect x="854.36" y="268.15" width="5.1" height="17.2" fill="#f9cb89"/>
<rect x="854.36" y="287.70" width="5.1" height="17.2" fill="#f9cb89"/>
<rect x="854.36" y="307.25" width="5.1" height="17.2" fill="#f9cb89"/>
<rect x="854.36" y="326.80" width="5.1" height="17.2" fill="#f9cb89"/>
<rect x="854.36" y="346.35" width="5.1" height="17.2" fill="#f9cb89"/>
<rect x="854.36" y="365.90" width="5.1" height="17.2" fill="#f9cb89"/>
<rect x="854.36" y="385.45" width="5.1" height="17.2" fill="#f9cb89"/>
<rect x="854.36" y="405.00" width="5.1" height="17.2" fill="#f9cb89"/>
<rect x="854.36" y="424.55" width="5.1" height="17.2" fill="#f9cb89"/>
<rect x="854.36" y="444.10" width="5.1" height="17.2" fill="#f9cb89"/>
<rect x="860.60" y="209.50" width="5.1" height="17.2" fill="#d9708e"/>
<rect x="860.60" y="229.05" width="5.1" height="17.2" fill="#d9708e"/>
<rect x="860.60" y="248.60" width="5.1" height="17.2" fill="#d9708e"/>
<rect x="860.60" y="268.15" width="5.1" height="17.2" fill="#cb6594"/>
<rect x="860.60" y="287.70" width="5.1" height="17.2" fill="#cb6594"/>
<rect x="860.60" y="307.25" width="5.1" height="17.2" fill="#b65f9a"/>
<rect x="860.60" y="326.80" width="5.1" height="17.2" fill="#d9708e"/>
<rect x="860.60" y="346.35" width="5.1" height="17.2" fill="#d9708e"/>
<rect x="860.60" y="365.90" width="5.1" height="17.2" fill="#d9708e"/>
<rect x="860.60" y="385.45" width="5.1" height="17.2" fill="#d9708e"/>
<rect x="860.60" y="405.00" width="5.1" height="17.2" fill="#cb6594"/>
<rect x="860.60" y="424.55" width="5.1" height="17.2" fill="#cb6594"/>
<rect x="860.60" y="444.10" width="5.1" height="17.2" fill="#d9708e"/>
<rect x="866.84" y="209.50" width="5.1" height="17.2" fill="#f5db93"/>
<rect x="866.84" y="229.05" width="5.1" height="17.2" fill="#f5db93"/>
<rect x="866.84" y="248.60" width="5.1" height="17.2" fill="#f5db93"/>
<rect x="866.84" y="268.15" width="5.1" height="17.2" fill="#f5db93"/>
<rect x="866.84" y="287.70" width="5.1" height="17.2" fill="#f5db93"/>
<rect x="866.84" y="307.25" width="5.1" height="17.2" fill="#f5db93"/>
<rect x="866.84" y="326.80" width="5.1" height="17.2" fill="#f5db93"/>
<rect x="866.84" y="346.35" width="5.1" height="17.2" fill="#f5db93"/>
<rect x="866.84" y="365.90" width="5.1" height="17.2" fill="#f5db93"/>
<rect x="866.84" y="385.45" width="5.1" height="17.2" fill="#f5db93"/>
<rect x="866.84" y="405.00" width="5.1" height="17.2" fill="#f5db93"/>
<rect x="866.84" y="424.55" width="5.1" height="17.2" fill="#f5db93"/>
<rect x="866.84" y="444.10" width="5.1" height="17.2" fill="#f5db93"/>
<rect x="873.08" y="209.50" width="5.1" height="17.2" fill="#f9cb89"/>
<rect x="873.08" y="229.05" width="5.1" height="17.2" fill="#f9cb89"/>
<rect x="873.08" y="248.60" width="5.1" height="17.2" fill="#f9cb89"/>
<rect x="873.08" y="268.15" width="5.1" height="17.2" fill="#f9cb89"/>
<rect x="873.08" y="287.70" width="5.1" height="17.2" fill="#f9cb89"/>
<rect x="873.08" y="307.25" width="5.1" height="17.2" fill="#f9cb89"/>
<rect x="873.08" y="326.80" width="5.1" height="17.2" fill="#f9cb89"/>
<rect x="873.08" y="346.35" width="5.1" height="17.2" fill="#f9cb89"/>
<rect x="873.08" y="365.90" width="5.1" height="17.2" fill="#f9cb89"/>
<rect x="873.08" y="385.45" width="5.1" height="17.2" fill="#f9cb89"/>
<rect x="873.08" y="405.00" width="5.1" height="17.2" fill="#f9cb89"/>
<rect x="873.08" y="424.55" width="5.1" height="17.2" fill="#f9cb89"/>
<rect x="873.08" y="444.10" width="5.1" height="17.2" fill="#f9cb89"/>
<rect x="879.32" y="209.50" width="5.1" height="17.2" fill="#f8a97f"/>
<rect x="879.32" y="229.05" width="5.1" height="17.2" fill="#f8a97f"/>
<rect x="879.32" y="248.60" width="5.1" height="17.2" fill="#f8a97f"/>
<rect x="879.32" y="268.15" width="5.1" height="17.2" fill="#f8a97f"/>
<rect x="879.32" y="287.70" width="5.1" height="17.2" fill="#f8a97f"/>
<rect x="879.32" y="307.25" width="5.1" height="17.2" fill="#f8a97f"/>
<rect x="879.32" y="326.80" width="5.1" height="17.2" fill="#f8a97f"/>
<rect x="879.32" y="346.35" width="5.1" height="17.2" fill="#f8a97f"/>
<rect x="879.32" y="365.90" width="5.1" height="17.2" fill="#f8a97f"/>
<rect x="879.32" y="385.45" width="5.1" height="17.2" fill="#f8a97f"/>
<rect x="879.32" y="405.00" width="5.1" height="17.2" fill="#f8a97f"/>
<rect x="879.32" y="424.55" width="5.1" height="17.2" fill="#f8a97f"/>
<rect x="879.32" y="444.10" width="5.1" height="17.2" fill="#f8a97f"/>
<rect x="885.56" y="209.50" width="5.1" height="17.2" fill="#fabf83"/>
<rect x="885.56" y="229.05" width="5.1" height="17.2" fill="#fabf83"/>
<rect x="885.56" y="248.60" width="5.1" height="17.2" fill="#fabf83"/>
<rect x="885.56" y="268.15" width="5.1" height="17.2" fill="#fabf83"/>
<rect x="885.56" y="287.70" width="5.1" height="17.2" fill="#fabf83"/>
<rect x="885.56" y="307.25" width="5.1" height="17.2" fill="#fabf83"/>
<rect x="885.56" y="326.80" width="5.1" height="17.2" fill="#fabf83"/>
<rect x="885.56" y="346.35" width="5.1" height="17.2" fill="#fabf83"/>
<rect x="885.56" y="365.90" width="5.1" height="17.2" fill="#fabf83"/>
<rect x="885.56" y="385.45" width="5.1" height="17.2" fill="#fabf83"/>
<rect x="885.56" y="405.00" width="5.1" height="17.2" fill="#fabf83"/>
<rect x="885.56" y="424.55" width="5.1" height="17.2" fill="#fabf83"/>
<rect x="885.56" y="444.10" width="5.1" height="17.2" fill="#fabf83"/>
<rect x="891.80" y="209.50" width="5.1" height="17.2" fill="#f8a97f"/>
<rect x="891.80" y="229.05" width="5.1" height="17.2" fill="#f8a97f"/>
<rect x="891.80" y="248.60" width="5.1" height="17.2" fill="#f8a97f"/>
<rect x="891.80" y="268.15" width="5.1" height="17.2" fill="#f8a97f"/>
<rect x="891.80" y="287.70" width="5.1" height="17.2" fill="#f8a97f"/>
<rect x="891.80" y="307.25" width="5.1" height="17.2" fill="#f8a97f"/>
<rect x="891.80" y="326.80" width="5.1" height="17.2" fill="#f8a97f"/>
<rect x="891.80" y="346.35" width="5.1" height="17.2" fill="#f8a97f"/>
<rect x="891.80" y="365.90" width="5.1" height="17.2" fill="#f8a97f"/>
<rect x="891.80" y="385.45" width="5.1" height="17.2" fill="#f8a97f"/>
<rect x="891.80" y="405.00" width="5.1" height="17.2" fill="#f8a97f"/>
<rect x="891.80" y="424.55" width="5.1" height="17.2" fill="#f8a97f"/>
<rect x="891.80" y="444.10" width="5.1" height="17.2" fill="#f8a97f"/>
<rect x="898.04" y="209.50" width="5.1" height="17.2" fill="#fabf83"/>
<rect x="898.04" y="229.05" width="5.1" height="17.2" fill="#fabf83"/>
<rect x="898.04" y="248.60" width="5.1" height="17.2" fill="#fabf83"/>
<rect x="898.04" y="268.15" width="5.1" height="17.2" fill="#fabf83"/>
<rect x="898.04" y="287.70" width="5.1" height="17.2" fill="#fabf83"/>
<rect x="898.04" y="307.25" width="5.1" height="17.2" fill="#fabf83"/>
<rect x="898.04" y="326.80" width="5.1" height="17.2" fill="#fabf83"/>
<rect x="898.04" y="346.35" width="5.1" height="17.2" fill="#fabf83"/>
<rect x="898.04" y="365.90" width="5.1" height="17.2" fill="#fabf83"/>
<rect x="898.04" y="385.45" width="5.1" height="17.2" fill="#fabf83"/>
<rect x="898.04" y="405.00" width="5.1" height="17.2" fill="#fabf83"/>
<rect x="898.04" y="424.55" width="5.1" height="17.2" fill="#fabf83"/>
<rect x="898.04" y="444.10" width="5.1" height="17.2" fill="#fabf83"/>
<rect x="904.28" y="209.50" width="5.1" height="17.2" fill="#fabf83"/>
<rect x="904.28" y="229.05" width="5.1" height="17.2" fill="#fabf83"/>
<rect x="904.28" y="248.60" width="5.1" height="17.2" fill="#fabf83"/>
<rect x="904.28" y="268.15" width="5.1" height="17.2" fill="#fabf83"/>
<rect x="904.28" y="287.70" width="5.1" height="17.2" fill="#fabf83"/>
<rect x="904.28" y="307.25" width="5.1" height="17.2" fill="#fabf83"/>
<rect x="904.28" y="326.80" width="5.1" height="17.2" fill="#fabf83"/>
<rect x="904.28" y="346.35" width="5.1" height="17.2" fill="#fabf83"/>
<rect x="904.28" y="365.90" width="5.1" height="17.2" fill="#fabf83"/>
<rect x="904.28" y="385.45" width="5.1" height="17.2" fill="#fabf83"/>
<rect x="904.28" y="405.00" width="5.1" height="17.2" fill="#fabf83"/>
<rect x="904.28" y="424.55" width="5.1" height="17.2" fill="#fabf83"/>
<rect x="904.28" y="444.10" width="5.1" height="17.2" fill="#fabf83"/>
<rect x="910.52" y="209.50" width="5.1" height="17.2" fill="#f8a97f"/>
<rect x="910.52" y="229.05" width="5.1" height="17.2" fill="#f8a97f"/>
<rect x="910.52" y="248.60" width="5.1" height="17.2" fill="#f8a97f"/>
<rect x="910.52" y="268.15" width="5.1" height="17.2" fill="#f8a97f"/>
<rect x="910.52" y="287.70" width="5.1" height="17.2" fill="#f8a97f"/>
<rect x="910.52" y="307.25" width="5.1" height="17.2" fill="#f8a97f"/>
<rect x="910.52" y="326.80" width="5.1" height="17.2" fill="#f8a97f"/>
<rect x="910.52" y="346.35" width="5.1" height="17.2" fill="#f8a97f"/>
<rect x="910.52" y="365.90" width="5.1" height="17.2" fill="#f8a97f"/>
<rect x="910.52" y="385.45" width="5.1" height="17.2" fill="#f8a97f"/>
<rect x="910.52" y="405.00" width="5.1" height="17.2" fill="#f8a97f"/>
<rect x="910.52" y="424.55" width="5.1" height="17.2" fill="#f8a97f"/>
<rect x="910.52" y="444.10" width="5.1" height="17.2" fill="#f8a97f"/>
<rect x="916.76" y="209.50" width="5.1" height="17.2" fill="#f5db93"/>
<rect x="916.76" y="229.05" width="5.1" height="17.2" fill="#f5db93"/>
<rect x="916.76" y="248.60" width="5.1" height="17.2" fill="#f5db93"/>
<rect x="916.76" y="268.15" width="5.1" height="17.2" fill="#f5db93"/>
<rect x="916.76" y="287.70" width="5.1" height="17.2" fill="#f5db93"/>
<rect x="916.76" y="307.25" width="5.1" height="17.2" fill="#f5db93"/>
<rect x="916.76" y="326.80" width="5.1" height="17.2" fill="#f5db93"/>
<rect x="916.76" y="346.35" width="5.1" height="17.2" fill="#f5db93"/>
<rect x="916.76" y="365.90" width="5.1" height="17.2" fill="#f5db93"/>
<rect x="916.76" y="385.45" width="5.1" height="17.2" fill="#f5db93"/>
<rect x="916.76" y="405.00" width="5.1" height="17.2" fill="#f5db93"/>
<rect x="916.76" y="424.55" width="5.1" height="17.2" fill="#f5db93"/>
<rect x="916.76" y="444.10" width="5.1" height="17.2" fill="#f5db93"/>
<rect x="923.00" y="209.50" width="5.1" height="17.2" fill="#f5db93"/>
<rect x="923.00" y="229.05" width="5.1" height="17.2" fill="#f5db93"/>
<rect x="923.00" y="248.60" width="5.1" height="17.2" fill="#f5db93"/>
<rect x="923.00" y="268.15" width="5.1" height="17.2" fill="#f5db93"/>
<rect x="923.00" y="287.70" width="5.1" height="17.2" fill="#f5db93"/>
<rect x="923.00" y="307.25" width="5.1" height="17.2" fill="#f5db93"/>
<rect x="923.00" y="326.80" width="5.1" height="17.2" fill="#f5db93"/>
<rect x="923.00" y="346.35" width="5.1" height="17.2" fill="#f5db93"/>
<rect x="923.00" y="365.90" width="5.1" height="17.2" fill="#f5db93"/>
<rect x="923.00" y="385.45" width="5.1" height="17.2" fill="#f5db93"/>
<rect x="923.00" y="405.00" width="5.1" height="17.2" fill="#f5db93"/>
<rect x="923.00" y="424.55" width="5.1" height="17.2" fill="#f5db93"/>
<rect x="923.00" y="444.10" width="5.1" height="17.2" fill="#f5db93"/>
<rect x="929.24" y="209.50" width="5.1" height="17.2" fill="#f5db93"/>
<rect x="929.24" y="229.05" width="5.1" height="17.2" fill="#f5db93"/>
<rect x="929.24" y="248.60" width="5.1" height="17.2" fill="#f5db93"/>
<rect x="929.24" y="268.15" width="5.1" height="17.2" fill="#f5db93"/>
<rect x="929.24" y="287.70" width="5.1" height="17.2" fill="#f5db93"/>
<rect x="929.24" y="307.25" width="5.1" height="17.2" fill="#f5db93"/>
<rect x="929.24" y="326.80" width="5.1" height="17.2" fill="#f5db93"/>
<rect x="929.24" y="346.35" width="5.1" height="17.2" fill="#f5db93"/>
<rect x="929.24" y="365.90" width="5.1" height="17.2" fill="#f5db93"/>
<rect x="929.24" y="385.45" width="5.1" height="17.2" fill="#f5db93"/>
<rect x="929.24" y="405.00" width="5.1" height="17.2" fill="#f5db93"/>
<rect x="929.24" y="424.55" width="5.1" height="17.2" fill="#f5db93"/>
<rect x="929.24" y="444.10" width="5.1" height="17.2" fill="#f5db93"/>
<rect x="935.48" y="209.50" width="5.1" height="17.2" fill="#f9cb89"/>
<rect x="935.48" y="229.05" width="5.1" height="17.2" fill="#f9cb89"/>
<rect x="935.48" y="248.60" width="5.1" height="17.2" fill="#f9cb89"/>
<rect x="935.48" y="268.15" width="5.1" height="17.2" fill="#f9cb89"/>
<rect x="935.48" y="287.70" width="5.1" height="17.2" fill="#f9cb89"/>
<rect x="935.48" y="307.25" width="5.1" height="17.2" fill="#f9cb89"/>
<rect x="935.48" y="326.80" width="5.1" height="17.2" fill="#f9cb89"/>
<rect x="935.48" y="346.35" width="5.1" height="17.2" fill="#f9cb89"/>
<rect x="935.48" y="365.90" width="5.1" height="17.2" fill="#f9cb89"/>
<rect x="935.48" y="385.45" width="5.1" height="17.2" fill="#f9cb89"/>
<rect x="935.48" y="405.00" width="5.1" height="17.2" fill="#f9cb89"/>
<rect x="935.48" y="424.55" width="5.1" height="17.2" fill="#f9cb89"/>
<rect x="935.48" y="444.10" width="5.1" height="17.2" fill="#f9cb89"/>
<rect x="941.72" y="209.50" width="5.1" height="17.2" fill="#d9708e"/>
<rect x="941.72" y="229.05" width="5.1" height="17.2" fill="#d9708e"/>
<rect x="941.72" y="248.60" width="5.1" height="17.2" fill="#d9708e"/>
<rect x="941.72" y="268.15" width="5.1" height="17.2" fill="#d9708e"/>
<rect x="941.72" y="287.70" width="5.1" height="17.2" fill="#d9708e"/>
<rect x="941.72" y="307.25" width="5.1" height="17.2" fill="#d9708e"/>
<rect x="941.72" y="326.80" width="5.1" height="17.2" fill="#f69b7f"/>
<rect x="941.72" y="346.35" width="5.1" height="17.2" fill="#f9b682"/>
<rect x="941.72" y="365.90" width="5.1" height="17.2" fill="#f9b682"/>
<rect x="941.72" y="385.45" width="5.1" height="17.2" fill="#f9b682"/>
<rect x="941.72" y="405.00" width="5.1" height="17.2" fill="#f9b682"/>
<rect x="941.72" y="424.55" width="5.1" height="17.2" fill="#f9b682"/>
<rect x="941.72" y="444.10" width="5.1" height="17.2" fill="#f9b682"/>
<rect x="947.96" y="209.50" width="5.1" height="17.2" fill="#f9b682"/>
<rect x="947.96" y="229.05" width="5.1" height="17.2" fill="#f9b682"/>
<rect x="947.96" y="248.60" width="5.1" height="17.2" fill="#f9b682"/>
<rect x="947.96" y="268.15" width="5.1" height="17.2" fill="#f9b682"/>
<rect x="947.96" y="287.70" width="5.1" height="17.2" fill="#f9b682"/>
<rect x="947.96" y="307.25" width="5.1" height="17.2" fill="#f9b682"/>
<rect x="947.96" y="326.80" width="5.1" height="17.2" fill="#f9b682"/>
<rect x="947.96" y="346.35" width="5.1" height="17.2" fill="#f9b682"/>
<rect x="947.96" y="365.90" width="5.1" height="17.2" fill="#f9b682"/>
<rect x="947.96" y="385.45" width="5.1" height="17.2" fill="#f9b682"/>
<rect x="947.96" y="405.00" width="5.1" height="17.2" fill="#f9b682"/>
<rect x="947.96" y="424.55" width="5.1" height="17.2" fill="#f9b682"/>
<rect x="947.96" y="444.10" width="5.1" height="17.2" fill="#f9b682"/>
<rect x="954.20" y="209.50" width="5.1" height="17.2" fill="#f9cb89"/>
<rect x="954.20" y="229.05" width="5.1" height="17.2" fill="#f9cb89"/>
<rect x="954.20" y="248.60" width="5.1" height="17.2" fill="#f9cb89"/>
<rect x="954.20" y="268.15" width="5.1" height="17.2" fill="#f9cb89"/>
<rect x="954.20" y="287.70" width="5.1" height="17.2" fill="#f9cb89"/>
<rect x="954.20" y="307.25" width="5.1" height="17.2" fill="#f9cb89"/>
<rect x="954.20" y="326.80" width="5.1" height="17.2" fill="#f9cb89"/>
<rect x="954.20" y="346.35" width="5.1" height="17.2" fill="#f9cb89"/>
<rect x="954.20" y="365.90" width="5.1" height="17.2" fill="#f9cb89"/>
<rect x="954.20" y="385.45" width="5.1" height="17.2" fill="#f9cb89"/>
<rect x="954.20" y="405.00" width="5.1" height="17.2" fill="#f9cb89"/>
<rect x="954.20" y="424.55" width="5.1" height="17.2" fill="#f9cb89"/>
<rect x="954.20" y="444.10" width="5.1" height="17.2" fill="#f9cb89"/>
<rect x="960.44" y="209.50" width="5.1" height="17.2" fill="#f5db93"/>
<rect x="960.44" y="229.05" width="5.1" height="17.2" fill="#f5db93"/>
<rect x="960.44" y="248.60" width="5.1" height="17.2" fill="#f5db93"/>
<rect x="960.44" y="268.15" width="5.1" height="17.2" fill="#f5db93"/>
<rect x="960.44" y="287.70" width="5.1" height="17.2" fill="#f5db93"/>
<rect x="960.44" y="307.25" width="5.1" height="17.2" fill="#f5db93"/>
<rect x="960.44" y="326.80" width="5.1" height="17.2" fill="#f5db93"/>
<rect x="960.44" y="346.35" width="5.1" height="17.2" fill="#f5db93"/>
<rect x="960.44" y="365.90" width="5.1" height="17.2" fill="#f5db93"/>
<rect x="960.44" y="385.45" width="5.1" height="17.2" fill="#f5db93"/>
<rect x="960.44" y="405.00" width="5.1" height="17.2" fill="#f5db93"/>
<rect x="960.44" y="424.55" width="5.1" height="17.2" fill="#f5db93"/>
<rect x="960.44" y="444.10" width="5.1" height="17.2" fill="#f5db93"/>
<rect x="966.68" y="209.50" width="5.1" height="17.2" fill="#f9b682"/>
<rect x="966.68" y="229.05" width="5.1" height="17.2" fill="#f9b682"/>
<rect x="966.68" y="248.60" width="5.1" height="17.2" fill="#f9b682"/>
<rect x="966.68" y="268.15" width="5.1" height="17.2" fill="#f9b682"/>
<rect x="966.68" y="287.70" width="5.1" height="17.2" fill="#f9b682"/>
<rect x="966.68" y="307.25" width="5.1" height="17.2" fill="#f9b682"/>
<rect x="966.68" y="326.80" width="5.1" height="17.2" fill="#f9b682"/>
<rect x="966.68" y="346.35" width="5.1" height="17.2" fill="#f9b682"/>
<rect x="966.68" y="365.90" width="5.1" height="17.2" fill="#f9b682"/>
<rect x="966.68" y="385.45" width="5.1" height="17.2" fill="#f9b682"/>
<rect x="966.68" y="405.00" width="5.1" height="17.2" fill="#f9b682"/>
<rect x="966.68" y="424.55" width="5.1" height="17.2" fill="#f9b682"/>
<rect x="966.68" y="444.10" width="5.1" height="17.2" fill="#f9b682"/>
<rect x="972.92" y="209.50" width="5.1" height="17.2" fill="#d9708e"/>
<rect x="972.92" y="229.05" width="5.1" height="17.2" fill="#d9708e"/>
<rect x="972.92" y="248.60" width="5.1" height="17.2" fill="#d9708e"/>
<rect x="972.92" y="268.15" width="5.1" height="17.2" fill="#d9708e"/>
<rect x="972.92" y="287.70" width="5.1" height="17.2" fill="#d9708e"/>
<rect x="972.92" y="307.25" width="5.1" height="17.2" fill="#ec8385"/>
<rect x="972.92" y="326.80" width="5.1" height="17.2" fill="#f29082"/>
<rect x="972.92" y="346.35" width="5.1" height="17.2" fill="#f69b7f"/>
<rect x="972.92" y="365.90" width="5.1" height="17.2" fill="#f69b7f"/>
<rect x="972.92" y="385.45" width="5.1" height="17.2" fill="#f69b7f"/>
<rect x="972.92" y="405.00" width="5.1" height="17.2" fill="#f69b7f"/>
<rect x="972.92" y="424.55" width="5.1" height="17.2" fill="#f69b7f"/>
<rect x="972.92" y="444.10" width="5.1" height="17.2" fill="#f69b7f"/>
<rect x="979.16" y="209.50" width="5.1" height="17.2" fill="#f9cb89"/>
<rect x="979.16" y="229.05" width="5.1" height="17.2" fill="#f9cb89"/>
<rect x="979.16" y="248.60" width="5.1" height="17.2" fill="#f9cb89"/>
<rect x="979.16" y="268.15" width="5.1" height="17.2" fill="#f9cb89"/>
<rect x="979.16" y="287.70" width="5.1" height="17.2" fill="#f9cb89"/>
<rect x="979.16" y="307.25" width="5.1" height="17.2" fill="#f9cb89"/>
<rect x="979.16" y="326.80" width="5.1" height="17.2" fill="#f9cb89"/>
<rect x="979.16" y="346.35" width="5.1" height="17.2" fill="#f9cb89"/>
<rect x="979.16" y="365.90" width="5.1" height="17.2" fill="#f9cb89"/>
<rect x="979.16" y="385.45" width="5.1" height="17.2" fill="#f9cb89"/>
<rect x="979.16" y="405.00" width="5.1" height="17.2" fill="#f9cb89"/>
<rect x="979.16" y="424.55" width="5.1" height="17.2" fill="#f9cb89"/>
<rect x="979.16" y="444.10" width="5.1" height="17.2" fill="#f9cb89"/>
<rect x="985.40" y="209.50" width="5.1" height="17.2" fill="#fabf83"/>
<rect x="985.40" y="229.05" width="5.1" height="17.2" fill="#fabf83"/>
<rect x="985.40" y="248.60" width="5.1" height="17.2" fill="#fabf83"/>
<rect x="985.40" y="268.15" width="5.1" height="17.2" fill="#fabf83"/>
<rect x="985.40" y="287.70" width="5.1" height="17.2" fill="#fabf83"/>
<rect x="985.40" y="307.25" width="5.1" height="17.2" fill="#fabf83"/>
<rect x="985.40" y="326.80" width="5.1" height="17.2" fill="#fabf83"/>
<rect x="985.40" y="346.35" width="5.1" height="17.2" fill="#fabf83"/>
<rect x="985.40" y="365.90" width="5.1" height="17.2" fill="#fabf83"/>
<rect x="985.40" y="385.45" width="5.1" height="17.2" fill="#fabf83"/>
<rect x="985.40" y="405.00" width="5.1" height="17.2" fill="#fabf83"/>
<rect x="985.40" y="424.55" width="5.1" height="17.2" fill="#fabf83"/>
<rect x="985.40" y="444.10" width="5.1" height="17.2" fill="#fabf83"/>
<rect x="991.64" y="209.50" width="5.1" height="17.2" fill="#f9cb89"/>
<rect x="991.64" y="229.05" width="5.1" height="17.2" fill="#f9cb89"/>
<rect x="991.64" y="248.60" width="5.1" height="17.2" fill="#f9cb89"/>
<rect x="991.64" y="268.15" width="5.1" height="17.2" fill="#f9cb89"/>
<rect x="991.64" y="287.70" width="5.1" height="17.2" fill="#f9cb89"/>
<rect x="991.64" y="307.25" width="5.1" height="17.2" fill="#f9cb89"/>
<rect x="991.64" y="326.80" width="5.1" height="17.2" fill="#f9cb89"/>
<rect x="991.64" y="346.35" width="5.1" height="17.2" fill="#f9cb89"/>
<rect x="991.64" y="365.90" width="5.1" height="17.2" fill="#f9cb89"/>
<rect x="991.64" y="385.45" width="5.1" height="17.2" fill="#f9cb89"/>
<rect x="991.64" y="405.00" width="5.1" height="17.2" fill="#f9cb89"/>
<rect x="991.64" y="424.55" width="5.1" height="17.2" fill="#f9cb89"/>
<rect x="991.64" y="444.10" width="5.1" height="17.2" fill="#f9cb89"/>
<rect x="997.88" y="209.50" width="5.1" height="17.2" fill="#f9b682"/>
<rect x="997.88" y="229.05" width="5.1" height="17.2" fill="#f9b682"/>
<rect x="997.88" y="248.60" width="5.1" height="17.2" fill="#f9b682"/>
<rect x="997.88" y="268.15" width="5.1" height="17.2" fill="#f9b682"/>
<rect x="997.88" y="287.70" width="5.1" height="17.2" fill="#f9b682"/>
<rect x="997.88" y="307.25" width="5.1" height="17.2" fill="#f9b682"/>
<rect x="997.88" y="326.80" width="5.1" height="17.2" fill="#f9b682"/>
<rect x="997.88" y="346.35" width="5.1" height="17.2" fill="#f9b682"/>
<rect x="997.88" y="365.90" width="5.1" height="17.2" fill="#f9b682"/>
<rect x="997.88" y="385.45" width="5.1" height="17.2" fill="#f9b682"/>
<rect x="997.88" y="405.00" width="5.1" height="17.2" fill="#f9b682"/>
<rect x="997.88" y="424.55" width="5.1" height="17.2" fill="#f9b682"/>
<rect x="997.88" y="444.10" width="5.1" height="17.2" fill="#f9b682"/>
<rect x="1004.12" y="209.50" width="5.1" height="17.2" fill="#f9cb89"/>
<rect x="1004.12" y="229.05" width="5.1" height="17.2" fill="#f9cb89"/>
<rect x="1004.12" y="248.60" width="5.1" height="17.2" fill="#f9cb89"/>
<rect x="1004.12" y="268.15" width="5.1" height="17.2" fill="#f9cb89"/>
<rect x="1004.12" y="287.70" width="5.1" height="17.2" fill="#f9cb89"/>
<rect x="1004.12" y="307.25" width="5.1" height="17.2" fill="#f9cb89"/>
<rect x="1004.12" y="326.80" width="5.1" height="17.2" fill="#f9cb89"/>
<rect x="1004.12" y="346.35" width="5.1" height="17.2" fill="#f9cb89"/>
<rect x="1004.12" y="365.90" width="5.1" height="17.2" fill="#f9cb89"/>
<rect x="1004.12" y="385.45" width="5.1" height="17.2" fill="#f9cb89"/>
<rect x="1004.12" y="405.00" width="5.1" height="17.2" fill="#f9cb89"/>
<rect x="1004.12" y="424.55" width="5.1" height="17.2" fill="#f9cb89"/>
<rect x="1004.12" y="444.10" width="5.1" height="17.2" fill="#f9cb89"/>
<rect x="1010.36" y="209.50" width="5.1" height="17.2" fill="#f9b682"/>
<rect x="1010.36" y="229.05" width="5.1" height="17.2" fill="#f9b682"/>
<rect x="1010.36" y="248.60" width="5.1" height="17.2" fill="#f9b682"/>
<rect x="1010.36" y="268.15" width="5.1" height="17.2" fill="#f9b682"/>
<rect x="1010.36" y="287.70" width="5.1" height="17.2" fill="#f9b682"/>
<rect x="1010.36" y="307.25" width="5.1" height="17.2" fill="#f9b682"/>
<rect x="1010.36" y="326.80" width="5.1" height="17.2" fill="#f9b682"/>
<rect x="1010.36" y="346.35" width="5.1" height="17.2" fill="#f9b682"/>
<rect x="1010.36" y="365.90" width="5.1" height="17.2" fill="#f9b682"/>
<rect x="1010.36" y="385.45" width="5.1" height="17.2" fill="#f9b682"/>
<rect x="1010.36" y="405.00" width="5.1" height="17.2" fill="#f9b682"/>
<rect x="1010.36" y="424.55" width="5.1" height="17.2" fill="#f9b682"/>
<rect x="1010.36" y="444.10" width="5.1" height="17.2" fill="#f9b682"/>
<rect x="1016.60" y="209.50" width="5.1" height="17.2" fill="#f9cb89"/>
<rect x="1016.60" y="229.05" width="5.1" height="17.2" fill="#f9cb89"/>
<rect x="1016.60" y="248.60" width="5.1" height="17.2" fill="#f9cb89"/>
<rect x="1016.60" y="268.15" width="5.1" height="17.2" fill="#f9cb89"/>
<rect x="1016.60" y="287.70" width="5.1" height="17.2" fill="#f9cb89"/>
<rect x="1016.60" y="307.25" width="5.1" height="17.2" fill="#f9cb89"/>
<rect x="1016.60" y="326.80" width="5.1" height="17.2" fill="#f9cb89"/>
<rect x="1016.60" y="346.35" width="5.1" height="17.2" fill="#f9cb89"/>
<rect x="1016.60" y="365.90" width="5.1" height="17.2" fill="#f9cb89"/>
<rect x="1016.60" y="385.45" width="5.1" height="17.2" fill="#f9cb89"/>
<rect x="1016.60" y="405.00" width="5.1" height="17.2" fill="#f9cb89"/>
<rect x="1016.60" y="424.55" width="5.1" height="17.2" fill="#f9cb89"/>
<rect x="1016.60" y="444.10" width="5.1" height="17.2" fill="#f9cb89"/>
<rect x="1022.84" y="209.50" width="5.1" height="17.2" fill="#f9b682"/>
<rect x="1022.84" y="229.05" width="5.1" height="17.2" fill="#f9b682"/>
<rect x="1022.84" y="248.60" width="5.1" height="17.2" fill="#f9b682"/>
<rect x="1022.84" y="268.15" width="5.1" height="17.2" fill="#f9b682"/>
<rect x="1022.84" y="287.70" width="5.1" height="17.2" fill="#f9b682"/>
<rect x="1022.84" y="307.25" width="5.1" height="17.2" fill="#f9b682"/>
<rect x="1022.84" y="326.80" width="5.1" height="17.2" fill="#f9b682"/>
<rect x="1022.84" y="346.35" width="5.1" height="17.2" fill="#f9b682"/>
<rect x="1022.84" y="365.90" width="5.1" height="17.2" fill="#f9b682"/>
<rect x="1022.84" y="385.45" width="5.1" height="17.2" fill="#f9b682"/>
<rect x="1022.84" y="405.00" width="5.1" height="17.2" fill="#f9b682"/>
<rect x="1022.84" y="424.55" width="5.1" height="17.2" fill="#f9b682"/>
<rect x="1022.84" y="444.10" width="5.1" height="17.2" fill="#f9b682"/>
<rect x="1029.08" y="209.50" width="5.1" height="17.2" fill="#f9cb89"/>
<rect x="1029.08" y="229.05" width="5.1" height="17.2" fill="#f9cb89"/>
<rect x="1029.08" y="248.60" width="5.1" height="17.2" fill="#f9cb89"/>
<rect x="1029.08" y="268.15" width="5.1" height="17.2" fill="#f9cb89"/>
<rect x="1029.08" y="287.70" width="5.1" height="17.2" fill="#f9cb89"/>
<rect x="1029.08" y="307.25" width="5.1" height="17.2" fill="#f9cb89"/>
<rect x="1029.08" y="326.80" width="5.1" height="17.2" fill="#f9cb89"/>
<rect x="1029.08" y="346.35" width="5.1" height="17.2" fill="#f9cb89"/>
<rect x="1029.08" y="365.90" width="5.1" height="17.2" fill="#f9cb89"/>
<rect x="1029.08" y="385.45" width="5.1" height="17.2" fill="#f9cb89"/>
<rect x="1029.08" y="405.00" width="5.1" height="17.2" fill="#f9cb89"/>
<rect x="1029.08" y="424.55" width="5.1" height="17.2" fill="#f9cb89"/>
<rect x="1029.08" y="444.10" width="5.1" height="17.2" fill="#f9cb89"/>
<rect x="1035.32" y="209.50" width="5.1" height="17.2" fill="#f29082"/>
<rect x="1035.32" y="229.05" width="5.1" height="17.2" fill="#f29082"/>
<rect x="1035.32" y="248.60" width="5.1" height="17.2" fill="#f29082"/>
<rect x="1035.32" y="268.15" width="5.1" height="17.2" fill="#f29082"/>
<rect x="1035.32" y="287.70" width="5.1" height="17.2" fill="#f29082"/>
<rect x="1035.32" y="307.25" width="5.1" height="17.2" fill="#f29082"/>
<rect x="1035.32" y="326.80" width="5.1" height="17.2" fill="#f29082"/>
<rect x="1035.32" y="346.35" width="5.1" height="17.2" fill="#f29082"/>
<rect x="1035.32" y="365.90" width="5.1" height="17.2" fill="#f29082"/>
<rect x="1035.32" y="385.45" width="5.1" height="17.2" fill="#f29082"/>
<rect x="1035.32" y="405.00" width="5.1" height="17.2" fill="#f29082"/>
<rect x="1035.32" y="424.55" width="5.1" height="17.2" fill="#f29082"/>
<rect x="1035.32" y="444.10" width="5.1" height="17.2" fill="#f29082"/>
<rect x="1041.56" y="209.50" width="5.1" height="17.2" fill="#fabf83"/>
<rect x="1041.56" y="229.05" width="5.1" height="17.2" fill="#fabf83"/>
<rect x="1041.56" y="248.60" width="5.1" height="17.2" fill="#fabf83"/>
<rect x="1041.56" y="268.15" width="5.1" height="17.2" fill="#fabf83"/>
<rect x="1041.56" y="287.70" width="5.1" height="17.2" fill="#fabf83"/>
<rect x="1041.56" y="307.25" width="5.1" height="17.2" fill="#fabf83"/>
<rect x="1041.56" y="326.80" width="5.1" height="17.2" fill="#fabf83"/>
<rect x="1041.56" y="346.35" width="5.1" height="17.2" fill="#fabf83"/>
<rect x="1041.56" y="365.90" width="5.1" height="17.2" fill="#fabf83"/>
<rect x="1041.56" y="385.45" width="5.1" height="17.2" fill="#fabf83"/>
<rect x="1041.56" y="405.00" width="5.1" height="17.2" fill="#fabf83"/>
<rect x="1041.56" y="424.55" width="5.1" height="17.2" fill="#fabf83"/>
<rect x="1041.56" y="444.10" width="5.1" height="17.2" fill="#fabf83"/>
<rect x="1047.80" y="209.50" width="5.1" height="17.2" fill="#f9cb89"/>
<rect x="1047.80" y="229.05" width="5.1" height="17.2" fill="#f9cb89"/>
<rect x="1047.80" y="248.60" width="5.1" height="17.2" fill="#f9cb89"/>
<rect x="1047.80" y="268.15" width="5.1" height="17.2" fill="#f9cb89"/>
<rect x="1047.80" y="287.70" width="5.1" height="17.2" fill="#f9cb89"/>
<rect x="1047.80" y="307.25" width="5.1" height="17.2" fill="#f9cb89"/>
<rect x="1047.80" y="326.80" width="5.1" height="17.2" fill="#f9cb89"/>
<rect x="1047.80" y="346.35" width="5.1" height="17.2" fill="#f9cb89"/>
<rect x="1047.80" y="365.90" width="5.1" height="17.2" fill="#f9cb89"/>
<rect x="1047.80" y="385.45" width="5.1" height="17.2" fill="#f9cb89"/>
<rect x="1047.80" y="405.00" width="5.1" height="17.2" fill="#f9cb89"/>
<rect x="1047.80" y="424.55" width="5.1" height="17.2" fill="#f9cb89"/>
<rect x="1047.80" y="444.10" width="5.1" height="17.2" fill="#f9cb89"/>
<rect x="1054.04" y="209.50" width="5.1" height="17.2" fill="#f9cb89"/>
<rect x="1054.04" y="229.05" width="5.1" height="17.2" fill="#f9cb89"/>
<rect x="1054.04" y="248.60" width="5.1" height="17.2" fill="#f9cb89"/>
<rect x="1054.04" y="268.15" width="5.1" height="17.2" fill="#f9cb89"/>
<rect x="1054.04" y="287.70" width="5.1" height="17.2" fill="#f9cb89"/>
<rect x="1054.04" y="307.25" width="5.1" height="17.2" fill="#f9cb89"/>
<rect x="1054.04" y="326.80" width="5.1" height="17.2" fill="#f9cb89"/>
<rect x="1054.04" y="346.35" width="5.1" height="17.2" fill="#f9cb89"/>
<rect x="1054.04" y="365.90" width="5.1" height="17.2" fill="#f9cb89"/>
<rect x="1054.04" y="385.45" width="5.1" height="17.2" fill="#f9cb89"/>
<rect x="1054.04" y="405.00" width="5.1" height="17.2" fill="#f9cb89"/>
<rect x="1054.04" y="424.55" width="5.1" height="17.2" fill="#f9cb89"/>
<rect x="1054.04" y="444.10" width="5.1" height="17.2" fill="#f9cb89"/>
<rect x="1060.28" y="209.50" width="5.1" height="17.2" fill="#d9708e"/>
<rect x="1060.28" y="229.05" width="5.1" height="17.2" fill="#d9708e"/>
<rect x="1060.28" y="248.60" width="5.1" height="17.2" fill="#d9708e"/>
<rect x="1060.28" y="268.15" width="5.1" height="17.2" fill="#d9708e"/>
<rect x="1060.28" y="287.70" width="5.1" height="17.2" fill="#ec8385"/>
<rect x="1060.28" y="307.25" width="5.1" height="17.2" fill="#f29082"/>
<rect x="1060.28" y="326.80" width="5.1" height="17.2" fill="#f69b7f"/>
<rect x="1060.28" y="346.35" width="5.1" height="17.2" fill="#f69b7f"/>
<rect x="1060.28" y="365.90" width="5.1" height="17.2" fill="#f9b682"/>
<rect x="1060.28" y="385.45" width="5.1" height="17.2" fill="#f9b682"/>
<rect x="1060.28" y="405.00" width="5.1" height="17.2" fill="#f9b682"/>
<rect x="1060.28" y="424.55" width="5.1" height="17.2" fill="#f9b682"/>
<rect x="1060.28" y="444.10" width="5.1" height="17.2" fill="#f9b682"/>
<rect x="1066.52" y="209.50" width="5.1" height="17.2" fill="#f9b682"/>
<rect x="1066.52" y="229.05" width="5.1" height="17.2" fill="#f9b682"/>
<rect x="1066.52" y="248.60" width="5.1" height="17.2" fill="#f9b682"/>
<rect x="1066.52" y="268.15" width="5.1" height="17.2" fill="#f9b682"/>
<rect x="1066.52" y="287.70" width="5.1" height="17.2" fill="#f9b682"/>
<rect x="1066.52" y="307.25" width="5.1" height="17.2" fill="#f9b682"/>
<rect x="1066.52" y="326.80" width="5.1" height="17.2" fill="#f9b682"/>
<rect x="1066.52" y="346.35" width="5.1" height="17.2" fill="#f9b682"/>
<rect x="1066.52" y="365.90" width="5.1" height="17.2" fill="#f9b682"/>
<rect x="1066.52" y="385.45" width="5.1" height="17.2" fill="#f9b682"/>
<rect x="1066.52" y="405.00" width="5.1" height="17.2" fill="#f9b682"/>
<rect x="1066.52" y="424.55" width="5.1" height="17.2" fill="#f9b682"/>
<rect x="1066.52" y="444.10" width="5.1" height="17.2" fill="#f9b682"/>
<rect x="1072.76" y="209.50" width="5.1" height="17.2" fill="#f9cb89"/>
<rect x="1072.76" y="229.05" width="5.1" height="17.2" fill="#f9cb89"/>
<rect x="1072.76" y="248.60" width="5.1" height="17.2" fill="#f9cb89"/>
<rect x="1072.76" y="268.15" width="5.1" height="17.2" fill="#f9cb89"/>
<rect x="1072.76" y="287.70" width="5.1" height="17.2" fill="#f9cb89"/>
<rect x="1072.76" y="307.25" width="5.1" height="17.2" fill="#f9cb89"/>
<rect x="1072.76" y="326.80" width="5.1" height="17.2" fill="#f9cb89"/>
<rect x="1072.76" y="346.35" width="5.1" height="17.2" fill="#f9cb89"/>
<rect x="1072.76" y="365.90" width="5.1" height="17.2" fill="#f9cb89"/>
<rect x="1072.76" y="385.45" width="5.1" height="17.2" fill="#f9cb89"/>
<rect x="1072.76" y="405.00" width="5.1" height="17.2" fill="#f9cb89"/>
<rect x="1072.76" y="424.55" width="5.1" height="17.2" fill="#f9cb89"/>
<rect x="1072.76" y="444.10" width="5.1" height="17.2" fill="#f9cb89"/>
<rect x="1079.00" y="209.50" width="5.1" height="17.2" fill="#f5db93"/>
<rect x="1079.00" y="229.05" width="5.1" height="17.2" fill="#f5db93"/>
<rect x="1079.00" y="248.60" width="5.1" height="17.2" fill="#f5db93"/>
<rect x="1079.00" y="268.15" width="5.1" height="17.2" fill="#f5db93"/>
<rect x="1079.00" y="287.70" width="5.1" height="17.2" fill="#f5db93"/>
<rect x="1079.00" y="307.25" width="5.1" height="17.2" fill="#f5db93"/>
<rect x="1079.00" y="326.80" width="5.1" height="17.2" fill="#f5db93"/>
<rect x="1079.00" y="346.35" width="5.1" height="17.2" fill="#f5db93"/>
<rect x="1079.00" y="365.90" width="5.1" height="17.2" fill="#f5db93"/>
<rect x="1079.00" y="385.45" width="5.1" height="17.2" fill="#f5db93"/>
<rect x="1079.00" y="405.00" width="5.1" height="17.2" fill="#f5db93"/>
<rect x="1079.00" y="424.55" width="5.1" height="17.2" fill="#f5db93"/>
<rect x="1079.00" y="444.10" width="5.1" height="17.2" fill="#f5db93"/>
<rect x="1085.24" y="209.50" width="5.1" height="17.2" fill="#f9cb89"/>
<rect x="1085.24" y="229.05" width="5.1" height="17.2" fill="#f9cb89"/>
<rect x="1085.24" y="248.60" width="5.1" height="17.2" fill="#f9cb89"/>
<rect x="1085.24" y="268.15" width="5.1" height="17.2" fill="#f9cb89"/>
<rect x="1085.24" y="287.70" width="5.1" height="17.2" fill="#f9cb89"/>
<rect x="1085.24" y="307.25" width="5.1" height="17.2" fill="#f9cb89"/>
<rect x="1085.24" y="326.80" width="5.1" height="17.2" fill="#f9cb89"/>
<rect x="1085.24" y="346.35" width="5.1" height="17.2" fill="#f9cb89"/>
<rect x="1085.24" y="365.90" width="5.1" height="17.2" fill="#f9cb89"/>
<rect x="1085.24" y="385.45" width="5.1" height="17.2" fill="#f9cb89"/>
<rect x="1085.24" y="405.00" width="5.1" height="17.2" fill="#f9cb89"/>
<rect x="1085.24" y="424.55" width="5.1" height="17.2" fill="#f9cb89"/>
<rect x="1085.24" y="444.10" width="5.1" height="17.2" fill="#f9cb89"/>
<rect x="1091.48" y="209.50" width="5.1" height="17.2" fill="#f9b682"/>
<rect x="1091.48" y="229.05" width="5.1" height="17.2" fill="#f9b682"/>
<rect x="1091.48" y="248.60" width="5.1" height="17.2" fill="#f9b682"/>
<rect x="1091.48" y="268.15" width="5.1" height="17.2" fill="#f9b682"/>
<rect x="1091.48" y="287.70" width="5.1" height="17.2" fill="#f9b682"/>
<rect x="1091.48" y="307.25" width="5.1" height="17.2" fill="#f9b682"/>
<rect x="1091.48" y="326.80" width="5.1" height="17.2" fill="#f9b682"/>
<rect x="1091.48" y="346.35" width="5.1" height="17.2" fill="#f9b682"/>
<rect x="1091.48" y="365.90" width="5.1" height="17.2" fill="#f9b682"/>
<rect x="1091.48" y="385.45" width="5.1" height="17.2" fill="#f9b682"/>
<rect x="1091.48" y="405.00" width="5.1" height="17.2" fill="#f9b682"/>
<rect x="1091.48" y="424.55" width="5.1" height="17.2" fill="#f9b682"/>
<rect x="1091.48" y="444.10" width="5.1" height="17.2" fill="#f9b682"/>
<rect x="1097.72" y="209.50" width="5.1" height="17.2" fill="#f9cb89"/>
<rect x="1097.72" y="229.05" width="5.1" height="17.2" fill="#f9cb89"/>
<rect x="1097.72" y="248.60" width="5.1" height="17.2" fill="#f9cb89"/>
<rect x="1097.72" y="268.15" width="5.1" height="17.2" fill="#f9cb89"/>
<rect x="1097.72" y="287.70" width="5.1" height="17.2" fill="#f9cb89"/>
<rect x="1097.72" y="307.25" width="5.1" height="17.2" fill="#f9cb89"/>
<rect x="1097.72" y="326.80" width="5.1" height="17.2" fill="#f9cb89"/>
<rect x="1097.72" y="346.35" width="5.1" height="17.2" fill="#f9cb89"/>
<rect x="1097.72" y="365.90" width="5.1" height="17.2" fill="#f9cb89"/>
<rect x="1097.72" y="385.45" width="5.1" height="17.2" fill="#f9cb89"/>
<rect x="1097.72" y="405.00" width="5.1" height="17.2" fill="#f9cb89"/>
<rect x="1097.72" y="424.55" width="5.1" height="17.2" fill="#f9cb89"/>
<rect x="1097.72" y="444.10" width="5.1" height="17.2" fill="#f9cb89"/>
<rect x="1103.96" y="209.50" width="5.1" height="17.2" fill="#fabf83"/>
<rect x="1103.96" y="229.05" width="5.1" height="17.2" fill="#fabf83"/>
<rect x="1103.96" y="248.60" width="5.1" height="17.2" fill="#fabf83"/>
<rect x="1103.96" y="268.15" width="5.1" height="17.2" fill="#fabf83"/>
<rect x="1103.96" y="287.70" width="5.1" height="17.2" fill="#fabf83"/>
<rect x="1103.96" y="307.25" width="5.1" height="17.2" fill="#fabf83"/>
<rect x="1103.96" y="326.80" width="5.1" height="17.2" fill="#fabf83"/>
<rect x="1103.96" y="346.35" width="5.1" height="17.2" fill="#fabf83"/>
<rect x="1103.96" y="365.90" width="5.1" height="17.2" fill="#fabf83"/>
<rect x="1103.96" y="385.45" width="5.1" height="17.2" fill="#fabf83"/>
<rect x="1103.96" y="405.00" width="5.1" height="17.2" fill="#fabf83"/>
<rect x="1103.96" y="424.55" width="5.1" height="17.2" fill="#fabf83"/>
<rect x="1103.96" y="444.10" width="5.1" height="17.2" fill="#fabf83"/>
<rect x="1110.20" y="209.50" width="5.1" height="17.2" fill="#f9cb89"/>
<rect x="1110.20" y="229.05" width="5.1" height="17.2" fill="#f9cb89"/>
<rect x="1110.20" y="248.60" width="5.1" height="17.2" fill="#f9cb89"/>
<rect x="1110.20" y="268.15" width="5.1" height="17.2" fill="#f9cb89"/>
<rect x="1110.20" y="287.70" width="5.1" height="17.2" fill="#f9cb89"/>
<rect x="1110.20" y="307.25" width="5.1" height="17.2" fill="#f9cb89"/>
<rect x="1110.20" y="326.80" width="5.1" height="17.2" fill="#f9cb89"/>
<rect x="1110.20" y="346.35" width="5.1" height="17.2" fill="#f9cb89"/>
<rect x="1110.20" y="365.90" width="5.1" height="17.2" fill="#f9cb89"/>
<rect x="1110.20" y="385.45" width="5.1" height="17.2" fill="#f9cb89"/>
<rect x="1110.20" y="405.00" width="5.1" height="17.2" fill="#f9cb89"/>
<rect x="1110.20" y="424.55" width="5.1" height="17.2" fill="#f9cb89"/>
<rect x="1110.20" y="444.10" width="5.1" height="17.2" fill="#f9cb89"/>
<rect x="1116.44" y="209.50" width="5.1" height="17.2" fill="#fabf83"/>
<rect x="1116.44" y="229.05" width="5.1" height="17.2" fill="#fabf83"/>
<rect x="1116.44" y="248.60" width="5.1" height="17.2" fill="#fabf83"/>
<rect x="1116.44" y="268.15" width="5.1" height="17.2" fill="#fabf83"/>
<rect x="1116.44" y="287.70" width="5.1" height="17.2" fill="#fabf83"/>
<rect x="1116.44" y="307.25" width="5.1" height="17.2" fill="#fabf83"/>
<rect x="1116.44" y="326.80" width="5.1" height="17.2" fill="#fabf83"/>
<rect x="1116.44" y="346.35" width="5.1" height="17.2" fill="#fabf83"/>
<rect x="1116.44" y="365.90" width="5.1" height="17.2" fill="#fabf83"/>
<rect x="1116.44" y="385.45" width="5.1" height="17.2" fill="#fabf83"/>
<rect x="1116.44" y="405.00" width="5.1" height="17.2" fill="#fabf83"/>
<rect x="1116.44" y="424.55" width="5.1" height="17.2" fill="#fabf83"/>
<rect x="1116.44" y="444.10" width="5.1" height="17.2" fill="#fabf83"/>
<rect x="1122.68" y="209.50" width="5.1" height="17.2" fill="#f9cb89"/>
<rect x="1122.68" y="229.05" width="5.1" height="17.2" fill="#f9cb89"/>
<rect x="1122.68" y="248.60" width="5.1" height="17.2" fill="#f9cb89"/>
<rect x="1122.68" y="268.15" width="5.1" height="17.2" fill="#f9cb89"/>
<rect x="1122.68" y="287.70" width="5.1" height="17.2" fill="#f9cb89"/>
<rect x="1122.68" y="307.25" width="5.1" height="17.2" fill="#f9cb89"/>
<rect x="1122.68" y="326.80" width="5.1" height="17.2" fill="#f9cb89"/>
<rect x="1122.68" y="346.35" width="5.1" height="17.2" fill="#f9cb89"/>
<rect x="1122.68" y="365.90" width="5.1" height="17.2" fill="#f9cb89"/>
<rect x="1122.68" y="385.45" width="5.1" height="17.2" fill="#f9cb89"/>
<rect x="1122.68" y="405.00" width="5.1" height="17.2" fill="#f9cb89"/>
<rect x="1122.68" y="424.55" width="5.1" height="17.2" fill="#f9cb89"/>
<rect x="1122.68" y="444.10" width="5.1" height="17.2" fill="#f9cb89"/>
<rect x="1128.92" y="209.50" width="5.1" height="17.2" fill="#f5db93"/>
<rect x="1128.92" y="229.05" width="5.1" height="17.2" fill="#f5db93"/>
<rect x="1128.92" y="248.60" width="5.1" height="17.2" fill="#f5db93"/>
<rect x="1128.92" y="268.15" width="5.1" height="17.2" fill="#f5db93"/>
<rect x="1128.92" y="287.70" width="5.1" height="17.2" fill="#f5db93"/>
<rect x="1128.92" y="307.25" width="5.1" height="17.2" fill="#f5db93"/>
<rect x="1128.92" y="326.80" width="5.1" height="17.2" fill="#f5db93"/>
<rect x="1128.92" y="346.35" width="5.1" height="17.2" fill="#f5db93"/>
<rect x="1128.92" y="365.90" width="5.1" height="17.2" fill="#f5db93"/>
<rect x="1128.92" y="385.45" width="5.1" height="17.2" fill="#f5db93"/>
<rect x="1128.92" y="405.00" width="5.1" height="17.2" fill="#f5db93"/>
<rect x="1128.92" y="424.55" width="5.1" height="17.2" fill="#f5db93"/>
<rect x="1128.92" y="444.10" width="5.1" height="17.2" fill="#f5db93"/>
<rect x="1135.16" y="209.50" width="5.1" height="17.2" fill="#fabf83"/>
<rect x="1135.16" y="229.05" width="5.1" height="17.2" fill="#fabf83"/>
<rect x="1135.16" y="248.60" width="5.1" height="17.2" fill="#fabf83"/>
<rect x="1135.16" y="268.15" width="5.1" height="17.2" fill="#fabf83"/>
<rect x="1135.16" y="287.70" width="5.1" height="17.2" fill="#fabf83"/>
<rect x="1135.16" y="307.25" width="5.1" height="17.2" fill="#fabf83"/>
<rect x="1135.16" y="326.80" width="5.1" height="17.2" fill="#fabf83"/>
<rect x="1135.16" y="346.35" width="5.1" height="17.2" fill="#fabf83"/>
<rect x="1135.16" y="365.90" width="5.1" height="17.2" fill="#fabf83"/>
<rect x="1135.16" y="385.45" width="5.1" height="17.2" fill="#fabf83"/>
<rect x="1135.16" y="405.00" width="5.1" height="17.2" fill="#fabf83"/>
<rect x="1135.16" y="424.55" width="5.1" height="17.2" fill="#fabf83"/>
<rect x="1135.16" y="444.10" width="5.1" height="17.2" fill="#fabf83"/>
<rect x="1141.40" y="209.50" width="5.1" height="17.2" fill="#f9b682"/>
<rect x="1141.40" y="229.05" width="5.1" height="17.2" fill="#f9b682"/>
<rect x="1141.40" y="248.60" width="5.1" height="17.2" fill="#f9b682"/>
<rect x="1141.40" y="268.15" width="5.1" height="17.2" fill="#f9b682"/>
<rect x="1141.40" y="287.70" width="5.1" height="17.2" fill="#f9b682"/>
<rect x="1141.40" y="307.25" width="5.1" height="17.2" fill="#f9b682"/>
<rect x="1141.40" y="326.80" width="5.1" height="17.2" fill="#f9b682"/>
<rect x="1141.40" y="346.35" width="5.1" height="17.2" fill="#f9b682"/>
<rect x="1141.40" y="365.90" width="5.1" height="17.2" fill="#f9b682"/>
<rect x="1141.40" y="385.45" width="5.1" height="17.2" fill="#f9b682"/>
<rect x="1141.40" y="405.00" width="5.1" height="17.2" fill="#f9b682"/>
<rect x="1141.40" y="424.55" width="5.1" height="17.2" fill="#f9b682"/>
<rect x="1141.40" y="444.10" width="5.1" height="17.2" fill="#f9b682"/>
<rect x="1147.64" y="209.50" width="5.1" height="17.2" fill="#f9cb89"/>
<rect x="1147.64" y="229.05" width="5.1" height="17.2" fill="#f9cb89"/>
<rect x="1147.64" y="248.60" width="5.1" height="17.2" fill="#f9cb89"/>
<rect x="1147.64" y="268.15" width="5.1" height="17.2" fill="#f9cb89"/>
<rect x="1147.64" y="287.70" width="5.1" height="17.2" fill="#f9cb89"/>
<rect x="1147.64" y="307.25" width="5.1" height="17.2" fill="#f69b7f"/>
<rect x="1147.64" y="326.80" width="5.1" height="17.2" fill="#f69b7f"/>
<rect x="1147.64" y="346.35" width="5.1" height="17.2" fill="#f69b7f"/>
<rect x="1147.64" y="365.90" width="5.1" height="17.2" fill="#f69b7f"/>
<rect x="1147.64" y="385.45" width="5.1" height="17.2" fill="#f69b7f"/>
<rect x="1147.64" y="405.00" width="5.1" height="17.2" fill="#f9b682"/>
<rect x="1147.64" y="424.55" width="5.1" height="17.2" fill="#f9b682"/>
<rect x="1147.64" y="444.10" width="5.1" height="17.2" fill="#f9b682"/>
<rect x="1153.88" y="209.50" width="5.1" height="17.2" fill="#e3788a"/>
<rect x="1153.88" y="229.05" width="5.1" height="17.2" fill="#e3788a"/>
<rect x="1153.88" y="248.60" width="5.1" height="17.2" fill="#e3788a"/>
<rect x="1153.88" y="268.15" width="5.1" height="17.2" fill="#e3788a"/>
<rect x="1153.88" y="287.70" width="5.1" height="17.2" fill="#ec8385"/>
<rect x="1153.88" y="307.25" width="5.1" height="17.2" fill="#ec8385"/>
<rect x="1153.88" y="326.80" width="5.1" height="17.2" fill="#ec8385"/>
<rect x="1153.88" y="346.35" width="5.1" height="17.2" fill="#ec8385"/>
<rect x="1153.88" y="365.90" width="5.1" height="17.2" fill="#d9708e"/>
<rect x="1153.88" y="385.45" width="5.1" height="17.2" fill="#cb6594"/>
<rect x="1153.88" y="405.00" width="5.1" height="17.2" fill="#b65f9a"/>
<rect x="1153.88" y="424.55" width="5.1" height="17.2" fill="#ec8385"/>
<rect x="1153.88" y="444.10" width="5.1" height="17.2" fill="#f29082"/>
<rect x="1160.12" y="209.50" width="5.1" height="17.2" fill="#fabf83"/>
<rect x="1160.12" y="229.05" width="5.1" height="17.2" fill="#fabf83"/>
<rect x="1160.12" y="248.60" width="5.1" height="17.2" fill="#fabf83"/>
<rect x="1160.12" y="268.15" width="5.1" height="17.2" fill="#fabf83"/>
<rect x="1160.12" y="287.70" width="5.1" height="17.2" fill="#fabf83"/>
<rect x="1160.12" y="307.25" width="5.1" height="17.2" fill="#fabf83"/>
<rect x="1160.12" y="326.80" width="5.1" height="17.2" fill="#fabf83"/>
<rect x="1160.12" y="346.35" width="5.1" height="17.2" fill="#fabf83"/>
<rect x="1160.12" y="365.90" width="5.1" height="17.2" fill="#fabf83"/>
<rect x="1160.12" y="385.45" width="5.1" height="17.2" fill="#fabf83"/>
<rect x="1160.12" y="405.00" width="5.1" height="17.2" fill="#fabf83"/>
<rect x="1160.12" y="424.55" width="5.1" height="17.2" fill="#fabf83"/>
<rect x="1160.12" y="444.10" width="5.1" height="17.2" fill="#fabf83"/>
<rect x="1166.36" y="209.50" width="5.1" height="17.2" fill="#f9cb89"/>
<rect x="1166.36" y="229.05" width="5.1" height="17.2" fill="#f9cb89"/>
<rect x="1166.36" y="248.60" width="5.1" height="17.2" fill="#f9cb89"/>
<rect x="1166.36" y="268.15" width="5.1" height="17.2" fill="#f9cb89"/>
<rect x="1166.36" y="287.70" width="5.1" height="17.2" fill="#f9cb89"/>
<rect x="1166.36" y="307.25" width="5.1" height="17.2" fill="#f9cb89"/>
<rect x="1166.36" y="326.80" width="5.1" height="17.2" fill="#f9cb89"/>
<rect x="1166.36" y="346.35" width="5.1" height="17.2" fill="#f9cb89"/>
<rect x="1166.36" y="365.90" width="5.1" height="17.2" fill="#f9cb89"/>
<rect x="1166.36" y="385.45" width="5.1" height="17.2" fill="#f9cb89"/>
<rect x="1166.36" y="405.00" width="5.1" height="17.2" fill="#f9cb89"/>
<rect x="1166.36" y="424.55" width="5.1" height="17.2" fill="#f9cb89"/>
<rect x="1166.36" y="444.10" width="5.1" height="17.2" fill="#f9cb89"/>
<rect x="1172.60" y="209.50" width="5.1" height="17.2" fill="#f9cb89"/>
<rect x="1172.60" y="229.05" width="5.1" height="17.2" fill="#f9cb89"/>
<rect x="1172.60" y="248.60" width="5.1" height="17.2" fill="#f9cb89"/>
<rect x="1172.60" y="268.15" width="5.1" height="17.2" fill="#f9cb89"/>
<rect x="1172.60" y="287.70" width="5.1" height="17.2" fill="#f9cb89"/>
<rect x="1172.60" y="307.25" width="5.1" height="17.2" fill="#f9cb89"/>
<rect x="1172.60" y="326.80" width="5.1" height="17.2" fill="#f9cb89"/>
<rect x="1172.60" y="346.35" width="5.1" height="17.2" fill="#f9cb89"/>
<rect x="1172.60" y="365.90" width="5.1" height="17.2" fill="#f9cb89"/>
<rect x="1172.60" y="385.45" width="5.1" height="17.2" fill="#f9cb89"/>
<rect x="1172.60" y="405.00" width="5.1" height="17.2" fill="#f9cb89"/>
<rect x="1172.60" y="424.55" width="5.1" height="17.2" fill="#f9cb89"/>
<rect x="1172.60" y="444.10" width="5.1" height="17.2" fill="#f9cb89"/>
<rect x="1178.84" y="209.50" width="5.1" height="17.2" fill="#f9cb89"/>
<rect x="1178.84" y="229.05" width="5.1" height="17.2" fill="#f9cb89"/>
<rect x="1178.84" y="248.60" width="5.1" height="17.2" fill="#f9cb89"/>
<rect x="1178.84" y="268.15" width="5.1" height="17.2" fill="#f9cb89"/>
<rect x="1178.84" y="287.70" width="5.1" height="17.2" fill="#f9cb89"/>
<rect x="1178.84" y="307.25" width="5.1" height="17.2" fill="#f9cb89"/>
<rect x="1178.84" y="326.80" width="5.1" height="17.2" fill="#f9cb89"/>
<rect x="1178.84" y="346.35" width="5.1" height="17.2" fill="#f9cb89"/>
<rect x="1178.84" y="365.90" width="5.1" height="17.2" fill="#f9cb89"/>
<rect x="1178.84" y="385.45" width="5.1" height="17.2" fill="#f9cb89"/>
<rect x="1178.84" y="405.00" width="5.1" height="17.2" fill="#f9cb89"/>
<rect x="1178.84" y="424.55" width="5.1" height="17.2" fill="#f9cb89"/>
<rect x="1178.84" y="444.10" width="5.1" height="17.2" fill="#f9cb89"/>
<rect x="1185.08" y="209.50" width="5.1" height="17.2" fill="#f8a97f"/>
<rect x="1185.08" y="229.05" width="5.1" height="17.2" fill="#f8a97f"/>
<rect x="1185.08" y="248.60" width="5.1" height="17.2" fill="#f8a97f"/>
<rect x="1185.08" y="268.15" width="5.1" height="17.2" fill="#f8a97f"/>
<rect x="1185.08" y="287.70" width="5.1" height="17.2" fill="#f8a97f"/>
<rect x="1185.08" y="307.25" width="5.1" height="17.2" fill="#f8a97f"/>
<rect x="1185.08" y="326.80" width="5.1" height="17.2" fill="#f8a97f"/>
<rect x="1185.08" y="346.35" width="5.1" height="17.2" fill="#f8a97f"/>
<rect x="1185.08" y="365.90" width="5.1" height="17.2" fill="#f8a97f"/>
<rect x="1185.08" y="385.45" width="5.1" height="17.2" fill="#f8a97f"/>
<rect x="1185.08" y="405.00" width="5.1" height="17.2" fill="#f8a97f"/>
<rect x="1185.08" y="424.55" width="5.1" height="17.2" fill="#f8a97f"/>
<rect x="1185.08" y="444.10" width="5.1" height="17.2" fill="#f8a97f"/>
<rect x="1191.32" y="209.50" width="5.1" height="17.2" fill="#f9b682"/>
<rect x="1191.32" y="229.05" width="5.1" height="17.2" fill="#f9b682"/>
<rect x="1191.32" y="248.60" width="5.1" height="17.2" fill="#f9b682"/>
<rect x="1191.32" y="268.15" width="5.1" height="17.2" fill="#f9b682"/>
<rect x="1191.32" y="287.70" width="5.1" height="17.2" fill="#f9b682"/>
<rect x="1191.32" y="307.25" width="5.1" height="17.2" fill="#f9b682"/>
<rect x="1191.32" y="326.80" width="5.1" height="17.2" fill="#f9b682"/>
<rect x="1191.32" y="346.35" width="5.1" height="17.2" fill="#f9b682"/>
<rect x="1191.32" y="365.90" width="5.1" height="17.2" fill="#f9b682"/>
<rect x="1191.32" y="385.45" width="5.1" height="17.2" fill="#f9b682"/>
<rect x="1191.32" y="405.00" width="5.1" height="17.2" fill="#f9b682"/>
<rect x="1191.32" y="424.55" width="5.1" height="17.2" fill="#f9b682"/>
<rect x="1191.32" y="444.10" width="5.1" height="17.2" fill="#f9b682"/>
<rect x="1197.56" y="209.50" width="5.1" height="17.2" fill="#f9cb89"/>
<rect x="1197.56" y="229.05" width="5.1" height="17.2" fill="#f9cb89"/>
<rect x="1197.56" y="248.60" width="5.1" height="17.2" fill="#f9cb89"/>
<rect x="1197.56" y="268.15" width="5.1" height="17.2" fill="#f9cb89"/>
<rect x="1197.56" y="287.70" width="5.1" height="17.2" fill="#f9cb89"/>
<rect x="1197.56" y="307.25" width="5.1" height="17.2" fill="#f9cb89"/>
<rect x="1197.56" y="326.80" width="5.1" height="17.2" fill="#f9cb89"/>
<rect x="1197.56" y="346.35" width="5.1" height="17.2" fill="#f9cb89"/>
<rect x="1197.56" y="365.90" width="5.1" height="17.2" fill="#f9cb89"/>
<rect x="1197.56" y="385.45" width="5.1" height="17.2" fill="#f9cb89"/>
<rect x="1197.56" y="405.00" width="5.1" height="17.2" fill="#f9cb89"/>
<rect x="1197.56" y="424.55" width="5.1" height="17.2" fill="#f9cb89"/>
<rect x="1197.56" y="444.10" width="5.1" height="17.2" fill="#f9cb89"/>
<rect x="1203.80" y="209.50" width="5.1" height="17.2" fill="#f8a97f"/>
<rect x="1203.80" y="229.05" width="5.1" height="17.2" fill="#f8a97f"/>
<rect x="1203.80" y="248.60" width="5.1" height="17.2" fill="#f8a97f"/>
<rect x="1203.80" y="268.15" width="5.1" height="17.2" fill="#f8a97f"/>
<rect x="1203.80" y="287.70" width="5.1" height="17.2" fill="#f8a97f"/>
<rect x="1203.80" y="307.25" width="5.1" height="17.2" fill="#f8a97f"/>
<rect x="1203.80" y="326.80" width="5.1" height="17.2" fill="#f8a97f"/>
<rect x="1203.80" y="346.35" width="5.1" height="17.2" fill="#f8a97f"/>
<rect x="1203.80" y="365.90" width="5.1" height="17.2" fill="#f8a97f"/>
<rect x="1203.80" y="385.45" width="5.1" height="17.2" fill="#f8a97f"/>
<rect x="1203.80" y="405.00" width="5.1" height="17.2" fill="#f8a97f"/>
<rect x="1203.80" y="424.55" width="5.1" height="17.2" fill="#f8a97f"/>
<rect x="1203.80" y="444.10" width="5.1" height="17.2" fill="#f8a97f"/>
</g>
<line x1="516.5" y1="209" x2="516.5" y2="462" stroke="#aaa" stroke-width="1"/>
<line x1="516" y1="461.5" x2="1210" y2="461.5" stroke="#999" stroke-width="1"/>
<g font-family="Liberation Sans" font-size="8.8" fill="#4a4a4a">
<text x="510" y="220.7" text-anchor="end">Oct 2017</text><line x1="512.5" x2="516.5" y1="218.1" y2="218.1" stroke="#444" stroke-width="1"/>
<text x="510" y="240.2" text-anchor="end">Nov 2017</text><line x1="512.5" x2="516.5" y1="237.7" y2="237.7" stroke="#444" stroke-width="1"/>
<text x="510" y="259.8" text-anchor="end">Dec 2017</text><line x1="512.5" x2="516.5" y1="257.2" y2="257.2" stroke="#444" stroke-width="1"/>
<text x="510" y="279.4" text-anchor="end">Jan 2018</text><line x1="512.5" x2="516.5" y1="276.8" y2="276.8" stroke="#444" stroke-width="1"/>
<text x="510" y="298.9" text-anchor="end">Feb 2018</text><line x1="512.5" x2="516.5" y1="296.3" y2="296.3" stroke="#444" stroke-width="1"/>
<text x="510" y="318.5" text-anchor="end">Mar 2018</text><line x1="512.5" x2="516.5" y1="315.9" y2="315.9" stroke="#444" stroke-width="1"/>
<text x="510" y="338.0" text-anchor="end">Apr 2018</text><line x1="512.5" x2="516.5" y1="335.4" y2="335.4" stroke="#444" stroke-width="1"/>
<text x="510" y="357.6" text-anchor="end">May 2018</text><line x1="512.5" x2="516.5" y1="355.0" y2="355.0" stroke="#444" stroke-width="1"/>
<text x="510" y="377.1" text-anchor="end">Jun 2018</text><line x1="512.5" x2="516.5" y1="374.5" y2="374.5" stroke="#444" stroke-width="1"/>
<text x="510" y="396.7" text-anchor="end">Jul 2018</text><line x1="512.5" x2="516.5" y1="394.1" y2="394.1" stroke="#444" stroke-width="1"/>
<text x="510" y="416.2" text-anchor="end">Aug 2018</text><line x1="512.5" x2="516.5" y1="413.6" y2="413.6" stroke="#444" stroke-width="1"/>
<text x="510" y="435.8" text-anchor="end">Sep 2018</text><line x1="512.5" x2="516.5" y1="433.2" y2="433.2" stroke="#444" stroke-width="1"/>
<text x="510" y="455.3" text-anchor="end">Oct 2018</text><line x1="512.5" x2="516.5" y1="452.7" y2="452.7" stroke="#444" stroke-width="1"/>
</g>
<text x="0" y="0" transform="translate(465,337) rotate(-90)" text-anchor="middle" font-family="Liberation Sans" font-size="10" font-weight="bold" fill="#111">Month</text>
<text x="864" y="475" text-anchor="middle" font-family="Liberation Sans" font-size="10" font-weight="bold" fill="#111">Street</text>
<text x="1240" y="217" text-anchor="middle" font-family="Liberation Sans" font-size="10" font-weight="bold" fill="#222">Score</text>
<rect x="1226" y="223" width="14" height="178" fill="url(#lg)"/>
<g font-family="Liberation Sans" font-size="9" fill="#555">
<text x="1242" y="231">300</text><text x="1242" y="286">200</text><text x="1242" y="345">100</text><text x="1242" y="400">0</text>
</g>
</svg>
<div class="abs" style="left:1300px;top:202px;font-size:14.5px;font-weight:bold;color:#222">Streets</div>
<div class="abs" style="left:1300px;top:231.5px;font-size:10px;color:#222">ALL SELECTED</div>
<div class="cb" style="top:261.5px"></div><div class="st" style="top:261px">DEAN ST</div><div class="num" style="top:261px">310</div>
<div class="cb" style="top:287.5px"></div><div class="st" style="top:287px">DEKALB AVE</div><div class="num" style="top:287px">237</div>
<div class="cb" style="top:313.5px"></div><div class="st" style="top:313px">BOERUM PL</div><div class="num" style="top:313px">202</div>
<div class="cb" style="top:339.5px"></div><div class="st" style="top:339px">JORALEMON ST</div><div class="num" style="top:339px">167</div>
<div class="cb" style="top:365.5px"></div><div class="st" style="top:365px">WASHINGTON ST</div><div class="num" style="top:365px">162</div>
<div class="abs st" style="top:391px;left:1300px">OTHER</div><div class="num" style="top:391px">159</div>
<div class="abs" style="left:1300px;top:422px;font-size:10.5px;color:#3d7bd0"><svg width="11" height="11" viewBox="0 0 11 11" style="vertical-align:-1px"><circle cx="4.5" cy="4.5" r="3.2" stroke="#3d7bd0" stroke-width="1.8" fill="none"/><path d="M7 7l3 3" stroke="#3d7bd0" stroke-width="2"/></svg> SEARCH IN 111 CATEGORIES</div>
</body></html>
